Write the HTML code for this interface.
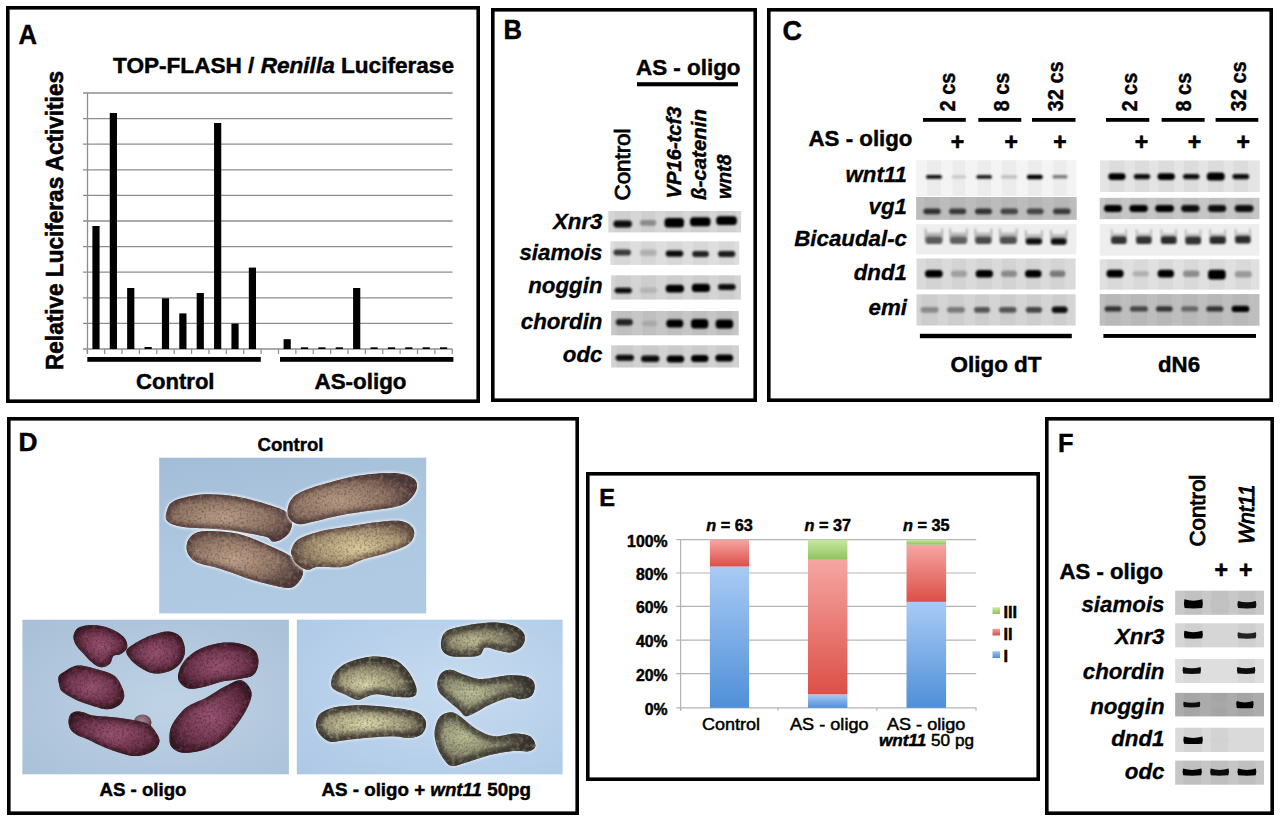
<!DOCTYPE html>
<html><head><meta charset="utf-8"><style>
html,body{margin:0;padding:0;background:#fff;width:1280px;height:822px;overflow:hidden}
svg{display:block}
text{font-family:"Liberation Sans", sans-serif}
</style></head><body>
<svg width="1280" height="822" viewBox="0 0 1280 822">
<defs>
<filter id="bl" x="-30%" y="-60%" width="160%" height="220%"><feGaussianBlur stdDeviation="1.0"/></filter>
<filter id="bl2" x="-30%" y="-60%" width="160%" height="220%"><feGaussianBlur stdDeviation="0.7"/></filter>
<linearGradient id="gb" x1="0" y1="0" x2="0" y2="1"><stop offset="0" stop-color="#a9cbf5"/><stop offset="1" stop-color="#4f8fd8"/></linearGradient>
<linearGradient id="gr" x1="0" y1="0" x2="0" y2="1"><stop offset="0" stop-color="#f6a6a3"/><stop offset="1" stop-color="#dc4f47"/></linearGradient>
<linearGradient id="gg" x1="0" y1="0" x2="0" y2="1"><stop offset="0" stop-color="#c9e8a3"/><stop offset="1" stop-color="#8fc35c"/></linearGradient>
<linearGradient id="gbs" x1="0" y1="0" x2="0" y2="1"><stop offset="0" stop-color="#9cc4f2"/><stop offset="1" stop-color="#4f8fd8"/></linearGradient>
<linearGradient id="grs" x1="0" y1="0" x2="0" y2="1"><stop offset="0" stop-color="#f2a09c"/><stop offset="1" stop-color="#dc4f47"/></linearGradient>
<linearGradient id="ggs" x1="0" y1="0" x2="0" y2="1"><stop offset="0" stop-color="#c9e8a3"/><stop offset="1" stop-color="#8fc35c"/></linearGradient>
<linearGradient id="ush0" x1="0" y1="0" x2="0" y2="1"><stop offset="0" stop-color="#e4e4e4"/><stop offset="0.5" stop-color="#777" stop-opacity="0.6"/><stop offset="1" stop-color="#777"/></linearGradient><linearGradient id="ush1" x1="0" y1="0" x2="0" y2="1"><stop offset="0" stop-color="#e4e4e4"/><stop offset="0.5" stop-color="#777" stop-opacity="0.6"/><stop offset="1" stop-color="#777"/></linearGradient><linearGradient id="ush2" x1="0" y1="0" x2="0" y2="1"><stop offset="0" stop-color="#e4e4e4"/><stop offset="0.5" stop-color="#666" stop-opacity="0.6"/><stop offset="1" stop-color="#666"/></linearGradient><linearGradient id="ush3" x1="0" y1="0" x2="0" y2="1"><stop offset="0" stop-color="#e4e4e4"/><stop offset="0.5" stop-color="#666" stop-opacity="0.6"/><stop offset="1" stop-color="#666"/></linearGradient><linearGradient id="ush4" x1="0" y1="0" x2="0" y2="1"><stop offset="0" stop-color="#e4e4e4"/><stop offset="0.5" stop-color="#111" stop-opacity="0.6"/><stop offset="1" stop-color="#111"/></linearGradient><linearGradient id="ush5" x1="0" y1="0" x2="0" y2="1"><stop offset="0" stop-color="#e4e4e4"/><stop offset="0.5" stop-color="#111" stop-opacity="0.6"/><stop offset="1" stop-color="#111"/></linearGradient>
</defs>
<rect x="7.80" y="7.80" width="470.40" height="393.40" fill="none" stroke="#000" stroke-width="3.6"/>
<rect x="492.80" y="9.80" width="262.40" height="390.40" fill="none" stroke="#000" stroke-width="3.6"/>
<rect x="768.80" y="9.80" width="502.40" height="390.40" fill="none" stroke="#000" stroke-width="3.6"/>
<rect x="8.80" y="418.80" width="568.40" height="394.40" fill="none" stroke="#000" stroke-width="3.6"/>
<rect x="587.80" y="473.80" width="450.40" height="305.40" fill="none" stroke="#000" stroke-width="3.6"/>
<rect x="1046.80" y="418.80" width="225.40" height="394.40" fill="none" stroke="#000" stroke-width="3.6"/>
<text x="18.50" y="44.00" font-size="27.5" font-weight="bold" font-style="normal" text-anchor="start" fill="#000" stroke="#000" stroke-width="0.45" textLength="18.50" lengthAdjust="spacingAndGlyphs">A</text>
<line x1="83" y1="93.00" x2="452.5" y2="93.00" stroke="#8e8e8e" stroke-width="1.3"/>
<line x1="83" y1="118.60" x2="452.5" y2="118.60" stroke="#8e8e8e" stroke-width="1.3"/>
<line x1="83" y1="144.20" x2="452.5" y2="144.20" stroke="#8e8e8e" stroke-width="1.3"/>
<line x1="83" y1="169.80" x2="452.5" y2="169.80" stroke="#8e8e8e" stroke-width="1.3"/>
<line x1="83" y1="195.40" x2="452.5" y2="195.40" stroke="#8e8e8e" stroke-width="1.3"/>
<line x1="83" y1="221.00" x2="452.5" y2="221.00" stroke="#8e8e8e" stroke-width="1.3"/>
<line x1="83" y1="246.60" x2="452.5" y2="246.60" stroke="#8e8e8e" stroke-width="1.3"/>
<line x1="83" y1="272.20" x2="452.5" y2="272.20" stroke="#8e8e8e" stroke-width="1.3"/>
<line x1="83" y1="297.80" x2="452.5" y2="297.80" stroke="#8e8e8e" stroke-width="1.3"/>
<line x1="83" y1="323.40" x2="452.5" y2="323.40" stroke="#8e8e8e" stroke-width="1.3"/>
<line x1="83" y1="349.00" x2="452.5" y2="349.00" stroke="#8e8e8e" stroke-width="1.3"/>
<line x1="87.5" y1="93" x2="87.5" y2="354" stroke="#8e8e8e" stroke-width="1.3"/>
<line x1="87.30" y1="349" x2="87.30" y2="354" stroke="#8e8e8e" stroke-width="1.2"/>
<line x1="104.68" y1="349" x2="104.68" y2="354" stroke="#8e8e8e" stroke-width="1.2"/>
<line x1="122.06" y1="349" x2="122.06" y2="354" stroke="#8e8e8e" stroke-width="1.2"/>
<line x1="139.44" y1="349" x2="139.44" y2="354" stroke="#8e8e8e" stroke-width="1.2"/>
<line x1="156.82" y1="349" x2="156.82" y2="354" stroke="#8e8e8e" stroke-width="1.2"/>
<line x1="174.20" y1="349" x2="174.20" y2="354" stroke="#8e8e8e" stroke-width="1.2"/>
<line x1="191.58" y1="349" x2="191.58" y2="354" stroke="#8e8e8e" stroke-width="1.2"/>
<line x1="208.96" y1="349" x2="208.96" y2="354" stroke="#8e8e8e" stroke-width="1.2"/>
<line x1="226.34" y1="349" x2="226.34" y2="354" stroke="#8e8e8e" stroke-width="1.2"/>
<line x1="243.72" y1="349" x2="243.72" y2="354" stroke="#8e8e8e" stroke-width="1.2"/>
<line x1="261.10" y1="349" x2="261.10" y2="354" stroke="#8e8e8e" stroke-width="1.2"/>
<line x1="278.48" y1="349" x2="278.48" y2="354" stroke="#8e8e8e" stroke-width="1.2"/>
<line x1="295.86" y1="349" x2="295.86" y2="354" stroke="#8e8e8e" stroke-width="1.2"/>
<line x1="313.24" y1="349" x2="313.24" y2="354" stroke="#8e8e8e" stroke-width="1.2"/>
<line x1="330.62" y1="349" x2="330.62" y2="354" stroke="#8e8e8e" stroke-width="1.2"/>
<line x1="348.00" y1="349" x2="348.00" y2="354" stroke="#8e8e8e" stroke-width="1.2"/>
<line x1="365.38" y1="349" x2="365.38" y2="354" stroke="#8e8e8e" stroke-width="1.2"/>
<line x1="382.76" y1="349" x2="382.76" y2="354" stroke="#8e8e8e" stroke-width="1.2"/>
<line x1="400.14" y1="349" x2="400.14" y2="354" stroke="#8e8e8e" stroke-width="1.2"/>
<line x1="417.52" y1="349" x2="417.52" y2="354" stroke="#8e8e8e" stroke-width="1.2"/>
<line x1="434.90" y1="349" x2="434.90" y2="354" stroke="#8e8e8e" stroke-width="1.2"/>
<line x1="452.28" y1="349" x2="452.28" y2="354" stroke="#8e8e8e" stroke-width="1.2"/>
<rect x="92.39" y="226.00" width="7.20" height="123.00" fill="#000" />
<rect x="109.77" y="113.00" width="7.20" height="236.00" fill="#000" />
<rect x="127.15" y="288.00" width="7.20" height="61.00" fill="#000" />
<rect x="144.53" y="347.00" width="7.20" height="2.00" fill="#000" />
<rect x="161.91" y="298.30" width="7.20" height="50.70" fill="#000" />
<rect x="179.29" y="313.40" width="7.20" height="35.60" fill="#000" />
<rect x="196.67" y="293.00" width="7.20" height="56.00" fill="#000" />
<rect x="214.05" y="123.00" width="7.20" height="226.00" fill="#000" />
<rect x="231.43" y="323.60" width="7.20" height="25.40" fill="#000" />
<rect x="248.81" y="267.60" width="7.20" height="81.40" fill="#000" />
<rect x="283.57" y="339.20" width="7.20" height="9.80" fill="#000" />
<rect x="300.95" y="347.30" width="7.20" height="1.70" fill="#000" />
<rect x="318.33" y="347.30" width="7.20" height="1.70" fill="#000" />
<rect x="335.71" y="347.30" width="7.20" height="1.70" fill="#000" />
<rect x="353.09" y="288.00" width="7.20" height="61.00" fill="#000" />
<rect x="370.47" y="347.30" width="7.20" height="1.70" fill="#000" />
<rect x="387.85" y="347.30" width="7.20" height="1.70" fill="#000" />
<rect x="405.23" y="347.30" width="7.20" height="1.70" fill="#000" />
<rect x="422.61" y="347.30" width="7.20" height="1.70" fill="#000" />
<rect x="439.99" y="347.30" width="7.20" height="1.70" fill="#000" />
<rect x="87.30" y="357.00" width="173.50" height="4.80" fill="#000" />
<rect x="280.00" y="357.00" width="173.40" height="4.80" fill="#000" />
<text x="113.00" y="73.00" font-size="22.5" font-weight="bold" font-style="normal" text-anchor="start" fill="#000" stroke="#000" stroke-width="0.45" textLength="341.00" lengthAdjust="spacingAndGlyphs">TOP-FLASH / <tspan font-style="italic">Renilla</tspan> Luciferase</text>
<text transform="translate(63.00,370.00) rotate(-90)" x="0" y="0" font-size="23.2" font-weight="bold" font-style="normal" text-anchor="start" fill="#000" stroke="#000" stroke-width="0.6" textLength="299.00" lengthAdjust="spacingAndGlyphs">Relative Luciferas Activities</text>
<text x="136.00" y="388.60" font-size="22" font-weight="bold" font-style="normal" text-anchor="start" fill="#000" stroke="#000" stroke-width="0.45" textLength="78.50" lengthAdjust="spacingAndGlyphs">Control</text>
<text x="314.50" y="388.60" font-size="22" font-weight="bold" font-style="normal" text-anchor="start" fill="#000" stroke="#000" stroke-width="0.45" textLength="92.00" lengthAdjust="spacingAndGlyphs">AS-oligo</text>
<text x="503.50" y="39.00" font-size="27.5" font-weight="bold" font-style="normal" text-anchor="start" fill="#000" stroke="#000" stroke-width="0.45" textLength="18.50" lengthAdjust="spacingAndGlyphs">B</text>
<text x="636.00" y="75.40" font-size="22.5" font-weight="bold" font-style="normal" text-anchor="start" fill="#000" stroke="#000" stroke-width="0.45" textLength="104.50" lengthAdjust="spacingAndGlyphs">AS - oligo</text>
<rect x="637.00" y="82.20" width="101.00" height="4.10" fill="#000" />
<text transform="translate(629.80,200.50) rotate(-90)" x="0" y="0" font-size="22" font-weight="normal" font-style="normal" text-anchor="start" fill="#000" stroke="#000" stroke-width="0.8" textLength="72.00" lengthAdjust="spacingAndGlyphs">Control</text>
<text transform="translate(681.30,198.50) rotate(-90)" x="0" y="0" font-size="21" font-weight="bold" font-style="italic" text-anchor="start" fill="#000" stroke="#000" stroke-width="0.45" textLength="92.00" lengthAdjust="spacingAndGlyphs">VP16-tcf3</text>
<text transform="translate(706.00,200.00) rotate(-90)" x="0" y="0" font-size="21" font-weight="bold" font-style="italic" text-anchor="start" fill="#000" stroke="#000" stroke-width="0.45" textLength="91.00" lengthAdjust="spacingAndGlyphs">ß-catenin</text>
<text transform="translate(731.40,199.00) rotate(-90)" x="0" y="0" font-size="21" font-weight="bold" font-style="italic" text-anchor="start" fill="#000" stroke="#000" stroke-width="0.45" textLength="44.50" lengthAdjust="spacingAndGlyphs">wnt8</text>
<text x="602.50" y="228.80" font-size="22.3" font-weight="bold" font-style="italic" text-anchor="end" fill="#000" stroke="#000" stroke-width="0.3">Xnr3</text>
<text x="602.50" y="259.50" font-size="22.3" font-weight="bold" font-style="italic" text-anchor="end" fill="#000" stroke="#000" stroke-width="0.3">siamois</text>
<text x="602.50" y="293.40" font-size="22.3" font-weight="bold" font-style="italic" text-anchor="end" fill="#000" stroke="#000" stroke-width="0.3">noggin</text>
<text x="602.50" y="329.20" font-size="22.3" font-weight="bold" font-style="italic" text-anchor="end" fill="#000" stroke="#000" stroke-width="0.3">chordin</text>
<text x="602.50" y="362.40" font-size="22.3" font-weight="bold" font-style="italic" text-anchor="end" fill="#000" stroke="#000" stroke-width="0.3">odc</text>
<rect x="608.30" y="211.00" width="132.80" height="21.40" fill="#d6d6d6" />
<rect x="614.40" y="211.00" width="16.50" height="21.40" fill="#000" fill-opacity="0.03"/>
<rect x="641.00" y="211.00" width="14.20" height="21.40" fill="#000" fill-opacity="0.03"/>
<rect x="665.50" y="211.00" width="17.50" height="21.40" fill="#000" fill-opacity="0.03"/>
<rect x="691.00" y="211.00" width="18.50" height="21.40" fill="#000" fill-opacity="0.03"/>
<rect x="717.20" y="211.00" width="18.70" height="21.40" fill="#000" fill-opacity="0.03"/>
<rect x="613.40" y="220.60" width="18.50" height="6.90" rx="3.45" fill="#0a0a0a" filter="url(#bl)"/>
<rect x="640.00" y="220.00" width="16.20" height="5.70" rx="2.85" fill="#8a8a8a" filter="url(#bl)"/>
<rect x="664.50" y="218.00" width="19.50" height="9.50" rx="3.50" fill="#050505" filter="url(#bl)"/>
<rect x="690.00" y="217.20" width="20.50" height="9.10" rx="3.50" fill="#050505" filter="url(#bl)"/>
<rect x="716.20" y="216.20" width="20.70" height="8.80" rx="3.50" fill="#050505" filter="url(#bl)"/>
<rect x="610.30" y="241.30" width="129.00" height="23.60" fill="#dedede" />
<rect x="614.40" y="241.30" width="15.60" height="23.60" fill="#000" fill-opacity="0.03"/>
<rect x="641.00" y="241.30" width="14.70" height="23.60" fill="#000" fill-opacity="0.03"/>
<rect x="666.70" y="241.30" width="15.60" height="23.60" fill="#000" fill-opacity="0.03"/>
<rect x="693.20" y="241.30" width="14.70" height="23.60" fill="#000" fill-opacity="0.03"/>
<rect x="719.00" y="241.30" width="15.30" height="23.60" fill="#000" fill-opacity="0.03"/>
<rect x="613.40" y="249.40" width="17.60" height="6.10" rx="3.05" fill="#3a3a3a" filter="url(#bl)"/>
<rect x="640.00" y="249.50" width="16.70" height="6.50" rx="3.25" fill="#b0b0b0" filter="url(#bl)"/>
<rect x="665.70" y="250.60" width="17.60" height="6.10" rx="3.05" fill="#111" filter="url(#bl)"/>
<rect x="692.20" y="251.00" width="16.70" height="6.00" rx="3.00" fill="#222" filter="url(#bl)"/>
<rect x="718.00" y="251.00" width="17.30" height="6.00" rx="3.00" fill="#1a1a1a" filter="url(#bl)"/>
<rect x="611.20" y="275.30" width="129.70" height="24.30" fill="#d4d4d4" />
<rect x="615.60" y="275.30" width="15.30" height="24.30" fill="#000" fill-opacity="0.03"/>
<rect x="641.00" y="275.30" width="15.00" height="24.30" fill="#000" fill-opacity="0.03"/>
<rect x="666.70" y="275.30" width="16.30" height="24.30" fill="#000" fill-opacity="0.03"/>
<rect x="692.80" y="275.30" width="16.20" height="24.30" fill="#000" fill-opacity="0.03"/>
<rect x="719.00" y="275.30" width="15.60" height="24.30" fill="#000" fill-opacity="0.03"/>
<rect x="614.60" y="287.70" width="17.30" height="5.50" rx="2.75" fill="#111" filter="url(#bl)"/>
<rect x="640.00" y="287.50" width="17.00" height="5.50" rx="2.75" fill="#b4b4b4" filter="url(#bl)"/>
<rect x="665.70" y="284.70" width="18.30" height="7.90" rx="3.50" fill="#050505" filter="url(#bl)"/>
<rect x="691.80" y="283.80" width="18.20" height="8.20" rx="3.50" fill="#050505" filter="url(#bl)"/>
<rect x="718.00" y="284.00" width="17.60" height="6.00" rx="3.00" fill="#0a0a0a" filter="url(#bl)"/>
<rect x="611.20" y="311.00" width="127.50" height="24.30" fill="#c6c6c6" />
<rect x="616.80" y="311.00" width="15.00" height="24.30" fill="#000" fill-opacity="0.03"/>
<rect x="643.00" y="311.00" width="13.20" height="24.30" fill="#000" fill-opacity="0.03"/>
<rect x="667.30" y="311.00" width="15.00" height="24.30" fill="#000" fill-opacity="0.03"/>
<rect x="692.00" y="311.00" width="15.30" height="24.30" fill="#000" fill-opacity="0.03"/>
<rect x="716.60" y="311.00" width="15.60" height="24.30" fill="#000" fill-opacity="0.03"/>
<rect x="615.80" y="318.90" width="17.00" height="6.60" rx="3.30" fill="#222" filter="url(#bl)"/>
<rect x="642.00" y="320.70" width="15.20" height="5.50" rx="2.75" fill="#a8a8a8" filter="url(#bl)"/>
<rect x="666.30" y="319.50" width="17.00" height="7.90" rx="3.50" fill="#050505" filter="url(#bl)"/>
<rect x="691.00" y="318.90" width="17.30" height="9.70" rx="3.50" fill="#050505" filter="url(#bl)"/>
<rect x="715.60" y="319.50" width="17.60" height="9.10" rx="3.50" fill="#050505" filter="url(#bl)"/>
<rect x="611.20" y="345.30" width="127.80" height="22.20" fill="#d2d2d2" />
<rect x="616.60" y="345.30" width="16.40" height="22.20" fill="#000" fill-opacity="0.03"/>
<rect x="642.00" y="345.30" width="16.40" height="22.20" fill="#000" fill-opacity="0.03"/>
<rect x="667.70" y="345.30" width="15.50" height="22.20" fill="#000" fill-opacity="0.03"/>
<rect x="692.00" y="345.30" width="15.50" height="22.20" fill="#000" fill-opacity="0.03"/>
<rect x="716.30" y="345.30" width="15.90" height="22.20" fill="#000" fill-opacity="0.03"/>
<rect x="615.60" y="354.70" width="18.40" height="6.10" rx="3.05" fill="#080808" filter="url(#bl)"/>
<rect x="641.00" y="355.50" width="18.40" height="6.50" rx="3.25" fill="#080808" filter="url(#bl)"/>
<rect x="666.70" y="355.50" width="17.50" height="7.00" rx="3.50" fill="#050505" filter="url(#bl)"/>
<rect x="691.00" y="355.00" width="17.50" height="7.00" rx="3.50" fill="#050505" filter="url(#bl)"/>
<rect x="715.30" y="354.50" width="17.90" height="7.00" rx="3.50" fill="#050505" filter="url(#bl)"/>
<text x="782.50" y="39.50" font-size="27.5" font-weight="bold" font-style="normal" text-anchor="start" fill="#000" stroke="#000" stroke-width="0.45" textLength="19.50" lengthAdjust="spacingAndGlyphs">C</text>
<text x="808.50" y="146.20" font-size="22.5" font-weight="bold" font-style="normal" text-anchor="start" fill="#000" stroke="#000" stroke-width="0.45" textLength="104.00" lengthAdjust="spacingAndGlyphs">AS - oligo</text>
<text x="957.50" y="149.50" font-size="23" font-weight="bold" font-style="normal" text-anchor="middle" fill="#000" stroke="#000" stroke-width="0.6">+</text>
<text x="1011.30" y="149.50" font-size="23" font-weight="bold" font-style="normal" text-anchor="middle" fill="#000" stroke="#000" stroke-width="0.6">+</text>
<text x="1060.00" y="149.50" font-size="23" font-weight="bold" font-style="normal" text-anchor="middle" fill="#000" stroke="#000" stroke-width="0.6">+</text>
<text x="1141.50" y="149.50" font-size="23" font-weight="bold" font-style="normal" text-anchor="middle" fill="#000" stroke="#000" stroke-width="0.6">+</text>
<text x="1194.40" y="149.50" font-size="23" font-weight="bold" font-style="normal" text-anchor="middle" fill="#000" stroke="#000" stroke-width="0.6">+</text>
<text x="1243.30" y="149.50" font-size="23" font-weight="bold" font-style="normal" text-anchor="middle" fill="#000" stroke="#000" stroke-width="0.6">+</text>
<rect x="923.00" y="118.00" width="42.80" height="3.80" fill="#000" />
<rect x="978.30" y="118.00" width="43.00" height="3.80" fill="#000" />
<rect x="1032.00" y="118.00" width="43.50" height="3.80" fill="#000" />
<rect x="1106.00" y="118.00" width="43.30" height="3.80" fill="#000" />
<rect x="1161.60" y="118.00" width="43.00" height="3.80" fill="#000" />
<rect x="1215.60" y="118.00" width="42.70" height="3.80" fill="#000" />
<text transform="translate(955.00,111.50) rotate(-90)" x="0" y="0" font-size="22" font-weight="bold" font-style="normal" text-anchor="start" fill="#000" stroke="#000" stroke-width="0.4" textLength="39.00" lengthAdjust="spacingAndGlyphs">2 cs</text>
<text transform="translate(1008.80,111.50) rotate(-90)" x="0" y="0" font-size="22" font-weight="bold" font-style="normal" text-anchor="start" fill="#000" stroke="#000" stroke-width="0.4" textLength="39.00" lengthAdjust="spacingAndGlyphs">8 cs</text>
<text transform="translate(1063.00,111.50) rotate(-90)" x="0" y="0" font-size="22" font-weight="bold" font-style="normal" text-anchor="start" fill="#000" stroke="#000" stroke-width="0.4" textLength="50.20" lengthAdjust="spacingAndGlyphs">32 cs</text>
<text transform="translate(1137.00,111.50) rotate(-90)" x="0" y="0" font-size="22" font-weight="bold" font-style="normal" text-anchor="start" fill="#000" stroke="#000" stroke-width="0.4" textLength="38.70" lengthAdjust="spacingAndGlyphs">2 cs</text>
<text transform="translate(1191.30,111.50) rotate(-90)" x="0" y="0" font-size="22" font-weight="bold" font-style="normal" text-anchor="start" fill="#000" stroke="#000" stroke-width="0.4" textLength="38.70" lengthAdjust="spacingAndGlyphs">8 cs</text>
<text transform="translate(1246.00,111.50) rotate(-90)" x="0" y="0" font-size="22" font-weight="bold" font-style="normal" text-anchor="start" fill="#000" stroke="#000" stroke-width="0.4" textLength="50.20" lengthAdjust="spacingAndGlyphs">32 cs</text>
<text x="907.00" y="182.40" font-size="22.3" font-weight="bold" font-style="italic" text-anchor="end" fill="#000" stroke="#000" stroke-width="0.3">wnt11</text>
<text x="907.00" y="213.50" font-size="22.3" font-weight="bold" font-style="italic" text-anchor="end" fill="#000" stroke="#000" stroke-width="0.3">vg1</text>
<text x="907.00" y="245.70" font-size="22.3" font-weight="bold" font-style="italic" text-anchor="end" fill="#000" stroke="#000" stroke-width="0.3">Bicaudal-c</text>
<text x="907.00" y="280.30" font-size="22.3" font-weight="bold" font-style="italic" text-anchor="end" fill="#000" stroke="#000" stroke-width="0.3">dnd1</text>
<text x="907.00" y="315.30" font-size="22.3" font-weight="bold" font-style="italic" text-anchor="end" fill="#000" stroke="#000" stroke-width="0.3">emi</text>
<rect x="916.10" y="160.20" width="160.30" height="35.80" fill="#f4f4f4" />
<rect x="927.00" y="160.20" width="14.00" height="35.80" fill="#000" fill-opacity="0.03"/>
<rect x="952.60" y="160.20" width="12.60" height="35.80" fill="#000" fill-opacity="0.03"/>
<rect x="977.40" y="160.20" width="13.60" height="35.80" fill="#000" fill-opacity="0.03"/>
<rect x="1002.00" y="160.20" width="14.30" height="35.80" fill="#000" fill-opacity="0.03"/>
<rect x="1027.80" y="160.20" width="14.00" height="35.80" fill="#000" fill-opacity="0.03"/>
<rect x="1053.30" y="160.20" width="13.40" height="35.80" fill="#000" fill-opacity="0.03"/>
<rect x="926.00" y="175.10" width="16.00" height="3.70" rx="1.85" fill="#111" filter="url(#bl)"/>
<rect x="951.60" y="175.30" width="14.60" height="3.30" rx="1.65" fill="#c8c8c8" filter="url(#bl)"/>
<rect x="976.40" y="175.10" width="15.60" height="3.70" rx="1.85" fill="#1a1a1a" filter="url(#bl)"/>
<rect x="1001.00" y="175.30" width="16.30" height="3.30" rx="1.65" fill="#bcbcbc" filter="url(#bl)"/>
<rect x="1026.80" y="174.80" width="16.00" height="4.40" rx="2.20" fill="#050505" filter="url(#bl)"/>
<rect x="1052.30" y="175.00" width="15.40" height="3.60" rx="1.80" fill="#7a7a7a" filter="url(#bl)"/>
<rect x="916.10" y="197.00" width="160.60" height="22.80" fill="#bcbcbc" />
<rect x="924.40" y="197.00" width="15.30" height="22.80" fill="#000" fill-opacity="0.03"/>
<rect x="950.00" y="197.00" width="15.20" height="22.80" fill="#000" fill-opacity="0.03"/>
<rect x="976.00" y="197.00" width="15.00" height="22.80" fill="#000" fill-opacity="0.03"/>
<rect x="1001.50" y="197.00" width="15.50" height="22.80" fill="#000" fill-opacity="0.03"/>
<rect x="1027.80" y="197.00" width="14.80" height="22.80" fill="#000" fill-opacity="0.03"/>
<rect x="1054.00" y="197.00" width="15.60" height="22.80" fill="#000" fill-opacity="0.03"/>
<rect x="923.40" y="208.40" width="17.30" height="5.80" rx="2.90" fill="#333" filter="url(#bl)"/>
<rect x="949.00" y="208.40" width="17.20" height="5.80" rx="2.90" fill="#3a3a3a" filter="url(#bl)"/>
<rect x="975.00" y="208.40" width="17.00" height="5.80" rx="2.90" fill="#333" filter="url(#bl)"/>
<rect x="1000.50" y="208.40" width="17.50" height="5.80" rx="2.90" fill="#444" filter="url(#bl)"/>
<rect x="1026.80" y="208.40" width="16.80" height="5.80" rx="2.90" fill="#444" filter="url(#bl)"/>
<rect x="1053.00" y="208.40" width="17.60" height="5.80" rx="2.90" fill="#3a3a3a" filter="url(#bl)"/>
<rect x="916.10" y="224.20" width="160.30" height="30.20" fill="#eeeeee" />
<path d="M925.4,228.6 L926.4,241.9 M942.4,228.6 L941.4,241.9" stroke="#a8a8a8" stroke-width="1.7" fill="none" filter="url(#bl)"/>
<rect x="925.6" y="232.6" width="16.6" height="5" fill="#b8b8b8" filter="url(#bl)"/>
<rect x="925.6" y="236.6" width="16.6" height="7.3" rx="2.5" fill="#5a5a5a" filter="url(#bl)"/>
<path d="M950.0,228.6 L951.0,241.9 M967.0,228.6 L966.0,241.9" stroke="#a8a8a8" stroke-width="1.7" fill="none" filter="url(#bl)"/>
<rect x="950.2" y="232.6" width="16.6" height="5" fill="#b8b8b8" filter="url(#bl)"/>
<rect x="950.2" y="236.6" width="16.6" height="7.3" rx="2.5" fill="#5e5e5e" filter="url(#bl)"/>
<path d="M975.2,228.6 L976.2,241.9 M991.5,228.6 L990.5,241.9" stroke="#a8a8a8" stroke-width="1.7" fill="none" filter="url(#bl)"/>
<rect x="975.4" y="232.6" width="15.9" height="5" fill="#b8b8b8" filter="url(#bl)"/>
<rect x="975.4" y="236.6" width="15.9" height="7.3" rx="2.5" fill="#4a4a4a" filter="url(#bl)"/>
<path d="M999.8,228.6 L1000.8,241.9 M1016.8,228.6 L1015.8,241.9" stroke="#a8a8a8" stroke-width="1.7" fill="none" filter="url(#bl)"/>
<rect x="1000.0" y="232.6" width="16.6" height="5" fill="#b8b8b8" filter="url(#bl)"/>
<rect x="1000.0" y="236.6" width="16.6" height="7.3" rx="2.5" fill="#505050" filter="url(#bl)"/>
<path d="M1025.7,230.2 L1026.7,242.6 M1042.0,230.2 L1041.0,242.6" stroke="#a8a8a8" stroke-width="1.7" fill="none" filter="url(#bl)"/>
<rect x="1025.9" y="234.2" width="15.9" height="5" fill="#b8b8b8" filter="url(#bl)"/>
<rect x="1025.9" y="238.2" width="15.9" height="6.4" rx="2.5" fill="#080808" filter="url(#bl)"/>
<path d="M1050.8,230.2 L1051.8,242.8 M1066.6,230.2 L1065.6,242.8" stroke="#a8a8a8" stroke-width="1.7" fill="none" filter="url(#bl)"/>
<rect x="1051.0" y="234.2" width="15.4" height="5" fill="#b8b8b8" filter="url(#bl)"/>
<rect x="1051.0" y="238.2" width="15.4" height="6.6" rx="2.5" fill="#080808" filter="url(#bl)"/>
<rect x="916.50" y="258.50" width="159.10" height="31.00" fill="#dadada" />
<rect x="926.00" y="258.50" width="15.70" height="31.00" fill="#000" fill-opacity="0.03"/>
<rect x="951.90" y="258.50" width="14.10" height="31.00" fill="#000" fill-opacity="0.03"/>
<rect x="976.60" y="258.50" width="15.40" height="31.00" fill="#000" fill-opacity="0.03"/>
<rect x="1002.00" y="258.50" width="14.00" height="31.00" fill="#000" fill-opacity="0.03"/>
<rect x="1026.00" y="258.50" width="14.50" height="31.00" fill="#000" fill-opacity="0.03"/>
<rect x="1050.70" y="258.50" width="13.70" height="31.00" fill="#000" fill-opacity="0.03"/>
<rect x="925.00" y="270.00" width="17.70" height="7.60" rx="3.50" fill="#050505" filter="url(#bl)"/>
<rect x="950.90" y="270.50" width="16.10" height="6.50" rx="3.25" fill="#a0a0a0" filter="url(#bl)"/>
<rect x="975.60" y="270.00" width="17.40" height="7.60" rx="3.50" fill="#050505" filter="url(#bl)"/>
<rect x="1001.00" y="270.50" width="16.00" height="6.50" rx="3.25" fill="#8a8a8a" filter="url(#bl)"/>
<rect x="1025.00" y="270.00" width="16.50" height="7.60" rx="3.50" fill="#050505" filter="url(#bl)"/>
<rect x="1049.70" y="270.50" width="15.70" height="6.50" rx="3.25" fill="#7a7a7a" filter="url(#bl)"/>
<rect x="916.50" y="294.30" width="159.10" height="31.20" fill="#d4d4d4" />
<rect x="921.60" y="294.30" width="16.00" height="31.20" fill="#000" fill-opacity="0.03"/>
<rect x="948.00" y="294.30" width="15.90" height="31.20" fill="#000" fill-opacity="0.03"/>
<rect x="975.00" y="294.30" width="14.00" height="31.20" fill="#000" fill-opacity="0.03"/>
<rect x="1000.00" y="294.30" width="15.50" height="31.20" fill="#000" fill-opacity="0.03"/>
<rect x="1026.80" y="294.30" width="14.20" height="31.20" fill="#000" fill-opacity="0.03"/>
<rect x="1052.70" y="294.30" width="13.90" height="31.20" fill="#000" fill-opacity="0.03"/>
<rect x="920.60" y="307.00" width="18.00" height="5.70" rx="2.85" fill="#8a8a8a" filter="url(#bl)"/>
<rect x="947.00" y="307.00" width="17.90" height="5.70" rx="2.85" fill="#7a7a7a" filter="url(#bl)"/>
<rect x="974.00" y="307.00" width="16.00" height="5.70" rx="2.85" fill="#555" filter="url(#bl)"/>
<rect x="999.00" y="307.00" width="17.50" height="5.70" rx="2.85" fill="#555" filter="url(#bl)"/>
<rect x="1025.80" y="307.00" width="16.20" height="5.70" rx="2.85" fill="#444" filter="url(#bl)"/>
<rect x="1051.70" y="306.50" width="15.90" height="6.50" rx="3.25" fill="#0a0a0a" filter="url(#bl)"/>
<rect x="919.90" y="333.80" width="151.90" height="4.40" fill="#000" />
<text x="950.50" y="372.30" font-size="22" font-weight="bold" font-style="normal" text-anchor="start" fill="#000" stroke="#000" stroke-width="0.45" textLength="91.00" lengthAdjust="spacingAndGlyphs">Oligo dT</text>
<rect x="1100.00" y="160.40" width="159.80" height="31.60" fill="#e4e4e4" />
<rect x="1109.30" y="160.40" width="15.30" height="31.60" fill="#000" fill-opacity="0.03"/>
<rect x="1134.80" y="160.40" width="14.40" height="31.60" fill="#000" fill-opacity="0.03"/>
<rect x="1158.50" y="160.40" width="15.40" height="31.60" fill="#000" fill-opacity="0.03"/>
<rect x="1184.00" y="160.40" width="14.50" height="31.60" fill="#000" fill-opacity="0.03"/>
<rect x="1207.80" y="160.40" width="15.90" height="31.60" fill="#000" fill-opacity="0.03"/>
<rect x="1233.40" y="160.40" width="14.80" height="31.60" fill="#000" fill-opacity="0.03"/>
<rect x="1108.30" y="173.20" width="17.30" height="6.80" rx="3.40" fill="#050505" filter="url(#bl)"/>
<rect x="1133.80" y="174.00" width="16.40" height="5.20" rx="2.60" fill="#111" filter="url(#bl)"/>
<rect x="1157.50" y="173.20" width="17.40" height="6.80" rx="3.40" fill="#050505" filter="url(#bl)"/>
<rect x="1183.00" y="174.00" width="16.50" height="5.20" rx="2.60" fill="#111" filter="url(#bl)"/>
<rect x="1206.80" y="172.50" width="17.90" height="8.00" rx="3.50" fill="#050505" filter="url(#bl)"/>
<rect x="1232.40" y="174.00" width="16.80" height="5.20" rx="2.60" fill="#0a0a0a" filter="url(#bl)"/>
<rect x="1099.70" y="197.80" width="159.80" height="21.40" fill="#c6c6c6" />
<rect x="1105.00" y="197.80" width="16.00" height="21.40" fill="#000" fill-opacity="0.03"/>
<rect x="1130.40" y="197.80" width="16.50" height="21.40" fill="#000" fill-opacity="0.03"/>
<rect x="1156.20" y="197.80" width="16.80" height="21.40" fill="#000" fill-opacity="0.03"/>
<rect x="1182.20" y="197.80" width="16.30" height="21.40" fill="#000" fill-opacity="0.03"/>
<rect x="1209.00" y="197.80" width="16.20" height="21.40" fill="#000" fill-opacity="0.03"/>
<rect x="1235.70" y="197.80" width="16.80" height="21.40" fill="#000" fill-opacity="0.03"/>
<rect x="1104.00" y="205.00" width="18.00" height="6.90" rx="3.45" fill="#050505" filter="url(#bl)"/>
<rect x="1129.40" y="205.00" width="18.50" height="6.90" rx="3.45" fill="#050505" filter="url(#bl)"/>
<rect x="1155.20" y="205.00" width="18.80" height="6.90" rx="3.45" fill="#050505" filter="url(#bl)"/>
<rect x="1181.20" y="205.00" width="18.30" height="6.90" rx="3.45" fill="#0a0a0a" filter="url(#bl)"/>
<rect x="1208.00" y="205.00" width="18.20" height="6.90" rx="3.45" fill="#0a0a0a" filter="url(#bl)"/>
<rect x="1234.70" y="205.00" width="18.80" height="6.90" rx="3.45" fill="#0a0a0a" filter="url(#bl)"/>
<rect x="1099.70" y="224.00" width="159.80" height="31.70" fill="#eeeeee" />
<path d="M1111.5,229.2 L1112.5,242.0 M1126.2,229.2 L1125.2,242.0" stroke="#b0b0b0" stroke-width="1.6" fill="none" filter="url(#bl)"/>
<rect x="1111.7" y="233.2" width="14.3" height="4" fill="#c4c4c4" filter="url(#bl)"/>
<rect x="1111.2" y="236.2" width="15.3" height="7.8" rx="2.5" fill="#333" filter="url(#bl)"/>
<path d="M1136.5,229.2 L1137.5,242.0 M1151.2,229.2 L1150.2,242.0" stroke="#b0b0b0" stroke-width="1.6" fill="none" filter="url(#bl)"/>
<rect x="1136.7" y="233.2" width="14.3" height="4" fill="#c4c4c4" filter="url(#bl)"/>
<rect x="1136.2" y="236.2" width="15.3" height="7.8" rx="2.5" fill="#333" filter="url(#bl)"/>
<path d="M1161.3,229.2 L1162.3,242.0 M1176.2,229.2 L1175.2,242.0" stroke="#b0b0b0" stroke-width="1.6" fill="none" filter="url(#bl)"/>
<rect x="1161.5" y="233.2" width="14.5" height="4" fill="#c4c4c4" filter="url(#bl)"/>
<rect x="1161.0" y="236.2" width="15.5" height="7.8" rx="2.5" fill="#2a2a2a" filter="url(#bl)"/>
<path d="M1185.7,229.5 L1186.7,242.5 M1200.6,229.5 L1199.6,242.5" stroke="#b0b0b0" stroke-width="1.6" fill="none" filter="url(#bl)"/>
<rect x="1185.9" y="233.5" width="14.5" height="4" fill="#c4c4c4" filter="url(#bl)"/>
<rect x="1185.4" y="236.5" width="15.5" height="8.0" rx="2.5" fill="#333" filter="url(#bl)"/>
<path d="M1210.0,229.2 L1211.0,242.0 M1225.4,229.2 L1224.4,242.0" stroke="#b0b0b0" stroke-width="1.6" fill="none" filter="url(#bl)"/>
<rect x="1210.2" y="233.2" width="15.0" height="4" fill="#c4c4c4" filter="url(#bl)"/>
<rect x="1209.7" y="236.2" width="16.0" height="7.8" rx="2.5" fill="#2a2a2a" filter="url(#bl)"/>
<path d="M1235.5,228.8 L1236.5,241.5 M1250.2,228.8 L1249.2,241.5" stroke="#b0b0b0" stroke-width="1.6" fill="none" filter="url(#bl)"/>
<rect x="1235.7" y="232.8" width="14.3" height="4" fill="#c4c4c4" filter="url(#bl)"/>
<rect x="1235.2" y="235.8" width="15.3" height="7.7" rx="2.5" fill="#2a2a2a" filter="url(#bl)"/>
<rect x="1099.70" y="259.30" width="159.80" height="30.40" fill="#e0e0e0" />
<rect x="1107.50" y="259.30" width="15.10" height="30.40" fill="#000" fill-opacity="0.03"/>
<rect x="1133.60" y="259.30" width="14.30" height="30.40" fill="#000" fill-opacity="0.03"/>
<rect x="1158.60" y="259.30" width="14.40" height="30.40" fill="#000" fill-opacity="0.03"/>
<rect x="1184.00" y="259.30" width="14.50" height="30.40" fill="#000" fill-opacity="0.03"/>
<rect x="1209.00" y="259.30" width="15.70" height="30.40" fill="#000" fill-opacity="0.03"/>
<rect x="1235.70" y="259.30" width="15.10" height="30.40" fill="#000" fill-opacity="0.03"/>
<rect x="1106.50" y="269.80" width="17.10" height="7.80" rx="3.50" fill="#050505" filter="url(#bl)"/>
<rect x="1132.60" y="271.00" width="16.30" height="5.50" rx="2.75" fill="#b0b0b0" filter="url(#bl)"/>
<rect x="1157.60" y="269.80" width="16.40" height="7.80" rx="3.50" fill="#050505" filter="url(#bl)"/>
<rect x="1183.00" y="270.50" width="16.50" height="6.50" rx="3.25" fill="#8c8c8c" filter="url(#bl)"/>
<rect x="1208.00" y="269.80" width="17.70" height="9.70" rx="3.50" fill="#050505" filter="url(#bl)"/>
<rect x="1234.70" y="271.00" width="17.10" height="6.50" rx="3.25" fill="#9a9a9a" filter="url(#bl)"/>
<rect x="1099.70" y="294.10" width="159.80" height="31.60" fill="#bebebe" />
<rect x="1105.60" y="294.10" width="15.00" height="31.60" fill="#000" fill-opacity="0.03"/>
<rect x="1131.00" y="294.10" width="15.90" height="31.60" fill="#000" fill-opacity="0.03"/>
<rect x="1157.00" y="294.10" width="14.70" height="31.60" fill="#000" fill-opacity="0.03"/>
<rect x="1182.20" y="294.10" width="15.00" height="31.60" fill="#000" fill-opacity="0.03"/>
<rect x="1207.30" y="294.10" width="15.00" height="31.60" fill="#000" fill-opacity="0.03"/>
<rect x="1232.60" y="294.10" width="15.70" height="31.60" fill="#000" fill-opacity="0.03"/>
<rect x="1104.60" y="306.30" width="17.00" height="5.30" rx="2.65" fill="#333" filter="url(#bl)"/>
<rect x="1130.00" y="306.30" width="17.90" height="5.30" rx="2.65" fill="#444" filter="url(#bl)"/>
<rect x="1156.00" y="306.30" width="16.70" height="5.30" rx="2.65" fill="#333" filter="url(#bl)"/>
<rect x="1181.20" y="306.30" width="17.00" height="5.30" rx="2.65" fill="#666" filter="url(#bl)"/>
<rect x="1206.30" y="306.30" width="17.00" height="5.30" rx="2.65" fill="#333" filter="url(#bl)"/>
<rect x="1231.60" y="305.80" width="17.70" height="6.20" rx="3.10" fill="#050505" filter="url(#bl)"/>
<rect x="1103.40" y="334.00" width="152.60" height="3.90" fill="#000" />
<text x="1158.00" y="372.40" font-size="22" font-weight="bold" font-style="normal" text-anchor="start" fill="#000" stroke="#000" stroke-width="0.45" textLength="42.00" lengthAdjust="spacingAndGlyphs">dN6</text>
<text x="18.50" y="451.00" font-size="26.5" font-weight="bold" font-style="normal" text-anchor="start" fill="#000" stroke="#000" stroke-width="0.45" textLength="19.00" lengthAdjust="spacingAndGlyphs">D</text>
<text x="257.50" y="451.10" font-size="19" font-weight="bold" font-style="normal" text-anchor="start" fill="#000" stroke="#000" stroke-width="0.45" textLength="66.00" lengthAdjust="spacingAndGlyphs">Control</text>
<text x="99.50" y="796.20" font-size="19" font-weight="bold" font-style="normal" text-anchor="start" fill="#000" stroke="#000" stroke-width="0.45" textLength="87.00" lengthAdjust="spacingAndGlyphs">AS - oligo</text>
<text x="321.50" y="796.20" font-size="19" font-weight="bold" font-style="normal" text-anchor="start" fill="#000" stroke="#000" stroke-width="0.45" textLength="209.50" lengthAdjust="spacingAndGlyphs">AS - oligo + <tspan font-style="italic">wnt11</tspan> 50pg</text>
<defs><linearGradient id="bgc" x1="0" y1="0" x2="0.3" y2="1"><stop offset="0" stop-color="#a3bdd8"/><stop offset="0.6" stop-color="#aec8e1"/><stop offset="1" stop-color="#b1cae3"/></linearGradient>
<radialGradient id="bga" cx="0.55" cy="0.55" r="0.75"><stop offset="0" stop-color="#c0d3e6"/><stop offset="1" stop-color="#a8bfd7"/></radialGradient>
<radialGradient id="bgw" cx="0.6" cy="0.45" r="0.8"><stop offset="0" stop-color="#c6dbf0"/><stop offset="1" stop-color="#adc8e6"/></radialGradient>
<filter id="tex" x="0" y="0" width="1" height="1"><feTurbulence type="fractalNoise" baseFrequency="0.45" numOctaves="3" seed="7" result="n"/><feColorMatrix in="n" type="matrix" values="0 0 0 0 0  0 0 0 0 0  0 0 0 0 0  0 0 0 -3.2 1.75" result="a"/><feComposite in="SourceGraphic" in2="a" operator="in"/></filter>
<filter id="tex2" x="0" y="0" width="1" height="1"><feTurbulence type="fractalNoise" baseFrequency="0.25" numOctaves="2" seed="11" result="n"/><feColorMatrix in="n" type="matrix" values="0 0 0 0 0  0 0 0 0 0  0 0 0 0 0  0 0 0 3 -1.45" result="a"/><feComposite in="SourceGraphic" in2="a" operator="in"/></filter>
<filter id="soft" x="-10%" y="-10%" width="120%" height="120%"><feGaussianBlur stdDeviation="0.8"/></filter>
<filter id="rim" x="-10%" y="-10%" width="120%" height="120%"><feGaussianBlur stdDeviation="2.2"/></filter>
<radialGradient id="eg0" cx="0.45" cy="0.5" r="0.62"><stop offset="0" stop-color="#bca08a"/><stop offset="0.6" stop-color="#8e7464"/><stop offset="1" stop-color="#4e3a3a"/></radialGradient>
<clipPath id="ec0"><path d="M166.1,514.1 C166.7,511.3 167.8,506.2 170.6,503.5 C173.4,500.8 177.0,499.6 182.8,498.1 C188.6,496.6 196.7,494.6 205.6,494.3 C214.5,494.1 225.9,495.0 236.1,496.6 C246.2,498.2 258.4,501.8 266.5,504.2 C274.6,506.6 280.6,508.4 284.8,511.1 C289.0,513.8 290.7,516.9 291.6,520.2 C292.5,523.5 291.8,527.7 290.1,530.9 C288.5,534.1 284.6,537.4 281.7,539.2 C278.8,541.0 275.1,541.9 272.6,541.5 C270.1,541.1 271.3,538.4 266.5,536.9 C261.7,535.4 251.8,533.7 243.7,532.4 C235.6,531.1 226.7,530.1 217.8,529.3 C208.9,528.5 197.8,528.5 190.4,527.8 C183.1,527.0 177.6,526.1 173.7,524.8 C169.8,523.5 168.1,522.0 166.8,520.2 C165.5,518.4 165.5,516.9 166.1,514.1Z"/></clipPath>
<radialGradient id="eg1" cx="0.4" cy="0.55" r="0.62"><stop offset="0" stop-color="#b89c86"/><stop offset="0.6" stop-color="#8c7262"/><stop offset="1" stop-color="#4e3a3a"/></radialGradient>
<clipPath id="ec1"><path d="M287.6,510.6 C287.9,507.1 288.9,501.9 292.2,498.4 C295.5,494.8 299.3,492.5 307.4,489.3 C315.5,486.1 330.2,481.9 340.8,479.4 C351.4,476.9 361.6,475.1 371.2,474.1 C380.8,473.1 391.5,472.6 398.6,473.4 C405.7,474.2 410.8,476.3 413.8,478.7 C416.8,481.1 417.3,484.5 416.8,487.8 C416.3,491.1 413.7,495.4 410.7,498.4 C407.7,501.4 405.2,504.0 398.6,506.0 C392.0,508.0 380.8,509.1 371.2,510.6 C361.6,512.1 350.2,513.4 340.8,515.2 C331.4,517.0 321.8,519.7 315.0,521.2 C308.2,522.7 303.9,524.5 299.8,524.3 C295.7,524.0 292.6,522.0 290.6,519.7 C288.6,517.4 287.3,514.2 287.6,510.6Z"/></clipPath>
<radialGradient id="eg2" cx="0.4" cy="0.5" r="0.62"><stop offset="0" stop-color="#c0a28c"/><stop offset="0.6" stop-color="#8e7464"/><stop offset="1" stop-color="#4e3a3a"/></radialGradient>
<clipPath id="ec2"><path d="M186.6,546.1 C186.8,543.0 188.0,539.3 190.4,536.9 C192.8,534.5 196.0,532.5 201.1,531.6 C206.2,530.7 213.8,531.0 220.9,531.6 C228.0,532.2 236.1,533.2 243.7,535.4 C251.3,537.5 259.1,541.3 266.5,544.5 C273.9,547.7 282.2,551.4 287.8,554.4 C293.4,557.4 297.5,559.6 300.0,562.8 C302.5,566.0 303.5,570.0 303.0,573.5 C302.5,577.0 299.2,581.7 296.9,584.1 C294.6,586.5 293.1,587.6 289.3,587.9 C285.5,588.1 280.4,587.0 274.1,585.6 C267.8,584.2 260.2,582.3 251.3,579.5 C242.4,576.7 229.8,571.7 220.9,568.9 C212.0,566.1 203.3,565.1 198.0,562.8 C192.7,560.5 190.8,558.0 188.9,555.2 C187.0,552.4 186.3,549.2 186.6,546.1Z"/></clipPath>
<radialGradient id="eg3" cx="0.55" cy="0.55" r="0.62"><stop offset="0" stop-color="#dccc9e"/><stop offset="0.6" stop-color="#a49070"/><stop offset="1" stop-color="#523f3c"/></radialGradient>
<clipPath id="ec3"><path d="M291.4,550.1 C292.4,547.3 293.8,542.5 298.2,539.5 C302.6,536.5 309.6,534.0 318.0,531.9 C326.4,529.8 338.3,528.2 348.4,526.6 C358.5,525.0 369.9,522.9 378.8,522.0 C387.7,521.1 396.0,520.3 401.6,521.2 C407.2,522.1 410.2,524.8 412.2,527.3 C414.2,529.8 414.8,533.3 413.8,536.4 C412.8,539.5 410.8,542.8 406.2,545.6 C401.6,548.4 393.5,550.9 386.4,553.2 C379.3,555.5 370.7,556.9 363.6,559.2 C356.5,561.5 351.4,565.5 343.8,566.8 C336.2,568.1 324.1,566.3 318.0,566.8 C311.9,567.3 310.9,570.4 307.4,569.9 C303.8,569.4 299.2,566.1 296.7,563.8 C294.2,561.5 293.1,558.5 292.2,556.2 C291.3,553.9 290.4,552.9 291.4,550.1Z"/></clipPath>
<radialGradient id="bump" cx="0.45" cy="0.4" r="0.6"><stop offset="0" stop-color="#a08894"/><stop offset="0.7" stop-color="#7a5464"/><stop offset="1" stop-color="#4a2a38"/></radialGradient>
<radialGradient id="eg4" cx="0.5" cy="0.5" r="0.62"><stop offset="0" stop-color="#9a5474"/><stop offset="0.6" stop-color="#6c344c"/><stop offset="1" stop-color="#321622"/></radialGradient>
<clipPath id="ec4"><path d="M73.6,635.3 C74.2,632.6 75.6,629.2 78.8,627.5 C82.0,625.8 87.4,624.8 92.6,624.9 C97.8,625.0 104.7,626.4 109.9,628.4 C115.1,630.4 120.8,633.8 123.7,637.0 C126.6,640.2 127.8,644.5 127.2,647.4 C126.6,650.3 122.6,652.9 120.3,654.3 C118.0,655.7 115.1,654.4 113.4,656.0 C111.7,657.6 111.9,661.9 109.9,663.8 C107.9,665.7 104.2,667.4 101.3,667.2 C98.4,667.1 95.8,665.4 92.6,662.9 C89.4,660.4 85.2,655.7 82.3,652.5 C79.4,649.3 76.9,646.8 75.4,643.9 C74.0,641.0 73.0,638.0 73.6,635.3Z"/></clipPath>
<radialGradient id="eg5" cx="0.5" cy="0.5" r="0.62"><stop offset="0" stop-color="#9a5474"/><stop offset="0.6" stop-color="#6c344c"/><stop offset="1" stop-color="#321622"/></radialGradient>
<clipPath id="ec5"><path d="M126.3,650.8 C126.9,648.2 129.9,646.5 134.1,643.9 C138.3,641.3 145.7,637.4 151.4,635.3 C157.2,633.2 163.7,631.2 168.6,631.5 C173.5,631.8 178.0,633.8 180.7,637.0 C183.4,640.2 185.0,646.5 185.0,650.8 C185.0,655.1 183.4,659.4 180.7,662.9 C178.0,666.4 173.2,669.8 168.6,671.5 C164.0,673.2 157.7,673.9 153.1,673.3 C148.5,672.7 144.8,670.4 141.0,668.1 C137.2,665.8 133.0,662.4 130.6,659.5 C128.2,656.6 125.7,653.4 126.3,650.8Z"/></clipPath>
<radialGradient id="eg6" cx="0.5" cy="0.5" r="0.62"><stop offset="0" stop-color="#9a5474"/><stop offset="0.6" stop-color="#6c344c"/><stop offset="1" stop-color="#321622"/></radialGradient>
<clipPath id="ec6"><path d="M58.5,677.0 C59.2,675.0 60.1,674.1 63.4,672.2 C66.7,670.3 72.1,665.9 78.0,665.5 C83.9,665.1 92.6,668.0 98.7,669.7 C104.8,671.4 110.7,672.9 114.5,675.8 C118.3,678.6 120.2,683.3 121.8,686.8 C123.4,690.2 124.6,693.5 124.2,696.5 C123.8,699.5 122.2,702.9 119.4,705.0 C116.6,707.1 112.1,709.3 107.2,709.3 C102.3,709.3 95.7,706.7 90.2,705.0 C84.7,703.3 79.0,701.1 74.3,698.9 C69.6,696.7 64.7,694.0 62.2,691.6 C59.7,689.2 59.7,686.7 59.1,684.3 C58.5,681.9 57.8,679.0 58.5,677.0Z"/></clipPath>
<radialGradient id="eg7" cx="0.5" cy="0.5" r="0.62"><stop offset="0" stop-color="#9a5474"/><stop offset="0.6" stop-color="#6c344c"/><stop offset="1" stop-color="#321622"/></radialGradient>
<clipPath id="ec7"><path d="M178.1,675.0 C178.7,671.3 180.6,665.5 184.2,661.2 C187.8,656.9 193.7,652.1 199.7,649.1 C205.7,646.1 213.5,643.9 220.4,643.0 C227.3,642.1 235.4,642.6 241.2,643.9 C247.0,645.2 252.1,647.6 255.0,650.8 C257.9,654.0 258.7,658.9 258.4,662.9 C258.1,666.9 256.8,672.3 253.3,675.0 C249.9,677.7 243.2,678.1 237.7,679.3 C232.2,680.4 226.2,680.6 220.4,681.9 C214.7,683.2 208.4,686.0 203.2,687.1 C198.0,688.2 193.2,689.4 189.4,688.8 C185.7,688.2 182.6,685.9 180.7,683.6 C178.8,681.3 177.5,678.7 178.1,675.0Z"/></clipPath>
<radialGradient id="eg8" cx="0.5" cy="0.5" r="0.62"><stop offset="0" stop-color="#9a5474"/><stop offset="0.6" stop-color="#6c344c"/><stop offset="1" stop-color="#321622"/></radialGradient>
<clipPath id="ec8"><path d="M169.5,738.9 C169.5,735.2 169.4,730.3 172.1,725.1 C174.8,719.9 180.2,712.4 185.9,707.8 C191.7,703.2 200.3,700.8 206.6,697.4 C212.9,694.0 218.4,690.0 223.9,687.1 C229.4,684.2 235.4,680.5 239.4,680.2 C243.4,679.9 246.1,682.8 248.1,685.4 C250.1,688.0 252.1,691.1 251.5,695.7 C250.9,700.3 248.0,707.0 244.6,713.0 C241.2,719.0 235.4,726.8 230.8,732.0 C226.2,737.2 222.2,740.9 217.0,744.1 C211.8,747.3 205.5,749.6 199.7,751.0 C193.9,752.4 187.0,753.3 182.4,752.7 C177.8,752.1 174.2,749.8 172.1,747.5 C169.9,745.2 169.5,742.6 169.5,738.9Z"/></clipPath>
<radialGradient id="eg9" cx="0.5" cy="0.5" r="0.62"><stop offset="0" stop-color="#9a5474"/><stop offset="0.6" stop-color="#6c344c"/><stop offset="1" stop-color="#321622"/></radialGradient>
<clipPath id="ec9"><path d="M68.5,722.0 C68.4,719.4 69.2,716.2 70.5,714.5 C71.8,712.8 74.2,711.8 76.5,711.5 C78.8,711.2 81.2,711.8 84.0,712.5 C86.8,713.2 88.1,714.7 93.0,715.5 C97.9,716.3 106.6,716.5 113.3,717.2 C120.0,718.0 127.2,718.9 133.0,720.0 C138.8,721.1 144.3,722.2 148.0,724.0 C151.7,725.8 153.1,728.3 155.0,731.0 C156.9,733.7 159.3,737.3 159.5,740.3 C159.7,743.3 157.9,746.6 155.9,748.8 C153.9,751.0 150.9,752.5 147.4,753.7 C143.9,754.9 139.3,756.1 135.2,756.1 C131.1,756.1 128.1,755.1 123.0,753.7 C117.9,752.3 110.6,750.0 104.8,747.6 C99.0,745.2 92.5,741.5 88.0,739.5 C83.5,737.5 80.8,737.1 78.0,735.5 C75.2,733.9 72.6,732.2 71.0,730.0 C69.4,727.8 68.6,724.6 68.5,722.0Z"/></clipPath>
<radialGradient id="eg10" cx="0.4" cy="0.55" r="0.62"><stop offset="0" stop-color="#c2c096"/><stop offset="0.6" stop-color="#86806a"/><stop offset="1" stop-color="#38322e"/></radialGradient>
<clipPath id="ec10"><path d="M441.1,642.0 C441.7,638.6 442.3,633.8 446.6,631.0 C450.9,628.2 459.0,626.8 467.0,625.4 C475.0,624.0 486.7,622.5 494.7,622.6 C502.7,622.8 510.1,624.3 515.0,626.3 C519.9,628.3 523.1,631.4 524.3,634.6 C525.5,637.8 524.6,642.8 522.4,645.7 C520.2,648.6 515.3,651.4 511.3,652.2 C507.3,653.0 502.7,651.2 498.4,650.4 C494.1,649.6 488.6,646.8 485.5,647.6 C482.4,648.4 483.0,653.5 479.9,655.0 C476.8,656.5 471.9,656.6 467.0,656.8 C462.1,656.9 454.3,656.8 450.3,655.9 C446.3,655.0 444.4,653.6 442.9,651.3 C441.4,649.0 440.5,645.4 441.1,642.0Z"/></clipPath>
<radialGradient id="eg11" cx="0.4" cy="0.65" r="0.62"><stop offset="0" stop-color="#dad6ac"/><stop offset="0.6" stop-color="#948e72"/><stop offset="1" stop-color="#38322e"/></radialGradient>
<clipPath id="ec11"><path d="M331.1,683.3 C331.2,680.4 332.2,675.6 335.0,672.2 C337.8,668.8 341.6,665.3 347.7,662.7 C353.8,660.1 363.8,657.2 371.4,656.7 C379.0,656.2 387.8,657.5 393.6,659.5 C399.4,661.5 402.8,665.3 406.2,669.0 C409.6,672.7 412.4,678.0 414.1,681.7 C415.8,685.4 416.8,688.7 416.5,691.2 C416.2,693.7 416.3,695.8 412.5,696.7 C408.7,697.6 399.7,697.1 393.6,696.7 C387.6,696.3 380.9,694.2 376.2,694.3 C371.4,694.4 368.3,696.6 365.1,697.5 C361.9,698.4 360.6,700.4 357.2,699.9 C353.8,699.4 348.3,696.0 344.5,694.3 C340.7,692.6 336.5,691.4 334.3,689.6 C332.1,687.8 331.0,686.2 331.1,683.3Z"/></clipPath>
<radialGradient id="eg12" cx="0.45" cy="0.5" r="0.62"><stop offset="0" stop-color="#dedab0"/><stop offset="0.6" stop-color="#9c9678"/><stop offset="1" stop-color="#38322e"/></radialGradient>
<clipPath id="ec12"><path d="M316.1,722.8 C316.8,720.2 317.4,715.9 320.8,713.3 C324.2,710.7 328.7,708.3 336.6,707.0 C344.5,705.7 357.8,705.1 368.3,705.4 C378.9,705.7 391.5,707.3 399.9,708.6 C408.3,709.9 414.5,710.9 418.9,713.3 C423.2,715.7 425.5,719.4 426.0,722.8 C426.5,726.2 424.8,731.4 422.0,733.9 C419.2,736.4 414.4,737.4 409.4,737.8 C404.4,738.2 398.9,736.2 392.0,736.2 C385.1,736.2 376.2,737.1 368.3,737.8 C360.4,738.5 350.8,739.5 344.5,740.2 C338.2,740.9 334.2,742.6 330.3,741.8 C326.4,741.0 323.0,737.6 320.8,735.5 C318.6,733.4 317.7,731.2 316.9,729.1 C316.1,727.0 315.5,725.4 316.1,722.8Z"/></clipPath>
<radialGradient id="eg13" cx="0.35" cy="0.5" r="0.62"><stop offset="0" stop-color="#bec29a"/><stop offset="0.6" stop-color="#86846c"/><stop offset="1" stop-color="#38322e"/></radialGradient>
<clipPath id="ec13"><path d="M437.4,682.7 C437.7,679.6 439.0,675.6 441.1,673.5 C443.2,671.4 446.6,669.6 450.3,669.8 C454.0,669.9 458.1,672.9 463.3,674.4 C468.6,675.9 474.1,678.9 481.8,679.0 C489.5,679.1 501.8,675.6 509.5,675.3 C517.2,675.0 523.8,675.7 528.0,677.2 C532.2,678.8 533.9,681.5 534.5,684.6 C535.1,687.7 534.0,693.2 531.7,695.6 C529.4,698.0 524.3,699.0 520.6,699.3 C516.9,699.6 514.7,696.6 509.5,697.5 C504.3,698.4 495.4,702.1 489.2,704.9 C483.0,707.7 476.5,712.2 472.5,714.1 C468.5,716.0 467.2,716.6 465.1,716.0 C463.0,715.4 462.7,713.2 459.6,710.4 C456.5,707.6 450.0,702.4 446.6,699.3 C443.2,696.2 440.7,694.8 439.2,692.0 C437.7,689.2 437.1,685.8 437.4,682.7Z"/></clipPath>
<radialGradient id="eg14" cx="0.3" cy="0.45" r="0.62"><stop offset="0" stop-color="#bac096"/><stop offset="0.6" stop-color="#84826a"/><stop offset="1" stop-color="#38322e"/></radialGradient>
<clipPath id="ec14"><path d="M434.6,732.6 C434.9,727.7 436.6,721.2 439.2,717.8 C441.8,714.4 446.9,712.6 450.3,712.3 C453.7,712.0 455.3,713.2 459.6,716.0 C463.9,718.8 470.4,725.5 476.2,728.9 C482.0,732.3 488.2,735.5 494.7,736.3 C501.2,737.1 509.1,733.5 515.0,733.5 C520.9,733.5 526.4,734.3 529.8,736.3 C533.2,738.3 535.4,743.1 535.4,745.6 C535.4,748.1 533.5,750.2 529.8,751.1 C526.1,752.0 519.7,750.5 513.2,751.1 C506.7,751.7 498.7,752.9 491.0,754.8 C483.3,756.6 473.5,760.4 467.0,762.2 C460.5,764.1 455.9,766.2 452.2,765.9 C448.5,765.6 447.3,763.5 444.8,760.4 C442.3,757.3 439.1,752.0 437.4,747.4 C435.7,742.8 434.3,737.5 434.6,732.6Z"/></clipPath></defs>
<rect x="159.2" y="457.7" width="267" height="155.7" fill="url(#bgc)"/>
<rect x="22.4" y="619.7" width="266.5" height="154.6" fill="url(#bga)"/>
<rect x="296.8" y="619.7" width="265.8" height="154.6" fill="url(#bgw)"/>
<path d="M166.1,514.1 C166.7,511.3 167.8,506.2 170.6,503.5 C173.4,500.8 177.0,499.6 182.8,498.1 C188.6,496.6 196.7,494.6 205.6,494.3 C214.5,494.1 225.9,495.0 236.1,496.6 C246.2,498.2 258.4,501.8 266.5,504.2 C274.6,506.6 280.6,508.4 284.8,511.1 C289.0,513.8 290.7,516.9 291.6,520.2 C292.5,523.5 291.8,527.7 290.1,530.9 C288.5,534.1 284.6,537.4 281.7,539.2 C278.8,541.0 275.1,541.9 272.6,541.5 C270.1,541.1 271.3,538.4 266.5,536.9 C261.7,535.4 251.8,533.7 243.7,532.4 C235.6,531.1 226.7,530.1 217.8,529.3 C208.9,528.5 197.8,528.5 190.4,527.8 C183.1,527.0 177.6,526.1 173.7,524.8 C169.8,523.5 168.1,522.0 166.8,520.2 C165.5,518.4 165.5,516.9 166.1,514.1Z" fill="none" stroke="#eef2f6" stroke-width="3" stroke-opacity="0.85" filter="url(#soft)"/><path d="M166.1,514.1 C166.7,511.3 167.8,506.2 170.6,503.5 C173.4,500.8 177.0,499.6 182.8,498.1 C188.6,496.6 196.7,494.6 205.6,494.3 C214.5,494.1 225.9,495.0 236.1,496.6 C246.2,498.2 258.4,501.8 266.5,504.2 C274.6,506.6 280.6,508.4 284.8,511.1 C289.0,513.8 290.7,516.9 291.6,520.2 C292.5,523.5 291.8,527.7 290.1,530.9 C288.5,534.1 284.6,537.4 281.7,539.2 C278.8,541.0 275.1,541.9 272.6,541.5 C270.1,541.1 271.3,538.4 266.5,536.9 C261.7,535.4 251.8,533.7 243.7,532.4 C235.6,531.1 226.7,530.1 217.8,529.3 C208.9,528.5 197.8,528.5 190.4,527.8 C183.1,527.0 177.6,526.1 173.7,524.8 C169.8,523.5 168.1,522.0 166.8,520.2 C165.5,518.4 165.5,516.9 166.1,514.1Z" fill="url(#eg0)"/><g clip-path="url(#ec0)"><path d="M166.1,514.1 C166.7,511.3 167.8,506.2 170.6,503.5 C173.4,500.8 177.0,499.6 182.8,498.1 C188.6,496.6 196.7,494.6 205.6,494.3 C214.5,494.1 225.9,495.0 236.1,496.6 C246.2,498.2 258.4,501.8 266.5,504.2 C274.6,506.6 280.6,508.4 284.8,511.1 C289.0,513.8 290.7,516.9 291.6,520.2 C292.5,523.5 291.8,527.7 290.1,530.9 C288.5,534.1 284.6,537.4 281.7,539.2 C278.8,541.0 275.1,541.9 272.6,541.5 C270.1,541.1 271.3,538.4 266.5,536.9 C261.7,535.4 251.8,533.7 243.7,532.4 C235.6,531.1 226.7,530.1 217.8,529.3 C208.9,528.5 197.8,528.5 190.4,527.8 C183.1,527.0 177.6,526.1 173.7,524.8 C169.8,523.5 168.1,522.0 166.8,520.2 C165.5,518.4 165.5,516.9 166.1,514.1Z" fill="none" stroke="#4e3a3a" stroke-width="7" stroke-opacity="0.8" filter="url(#rim)"/><path d="M166.1,514.1 C166.7,511.3 167.8,506.2 170.6,503.5 C173.4,500.8 177.0,499.6 182.8,498.1 C188.6,496.6 196.7,494.6 205.6,494.3 C214.5,494.1 225.9,495.0 236.1,496.6 C246.2,498.2 258.4,501.8 266.5,504.2 C274.6,506.6 280.6,508.4 284.8,511.1 C289.0,513.8 290.7,516.9 291.6,520.2 C292.5,523.5 291.8,527.7 290.1,530.9 C288.5,534.1 284.6,537.4 281.7,539.2 C278.8,541.0 275.1,541.9 272.6,541.5 C270.1,541.1 271.3,538.4 266.5,536.9 C261.7,535.4 251.8,533.7 243.7,532.4 C235.6,531.1 226.7,530.1 217.8,529.3 C208.9,528.5 197.8,528.5 190.4,527.8 C183.1,527.0 177.6,526.1 173.7,524.8 C169.8,523.5 168.1,522.0 166.8,520.2 C165.5,518.4 165.5,516.9 166.1,514.1Z" fill="#2e2020" fill-opacity="0.3" filter="url(#tex)"/><path d="M166.1,514.1 C166.7,511.3 167.8,506.2 170.6,503.5 C173.4,500.8 177.0,499.6 182.8,498.1 C188.6,496.6 196.7,494.6 205.6,494.3 C214.5,494.1 225.9,495.0 236.1,496.6 C246.2,498.2 258.4,501.8 266.5,504.2 C274.6,506.6 280.6,508.4 284.8,511.1 C289.0,513.8 290.7,516.9 291.6,520.2 C292.5,523.5 291.8,527.7 290.1,530.9 C288.5,534.1 284.6,537.4 281.7,539.2 C278.8,541.0 275.1,541.9 272.6,541.5 C270.1,541.1 271.3,538.4 266.5,536.9 C261.7,535.4 251.8,533.7 243.7,532.4 C235.6,531.1 226.7,530.1 217.8,529.3 C208.9,528.5 197.8,528.5 190.4,527.8 C183.1,527.0 177.6,526.1 173.7,524.8 C169.8,523.5 168.1,522.0 166.8,520.2 C165.5,518.4 165.5,516.9 166.1,514.1Z" fill="#bca08a" fill-opacity="0.35" filter="url(#tex2)"/></g>
<path d="M287.6,510.6 C287.9,507.1 288.9,501.9 292.2,498.4 C295.5,494.8 299.3,492.5 307.4,489.3 C315.5,486.1 330.2,481.9 340.8,479.4 C351.4,476.9 361.6,475.1 371.2,474.1 C380.8,473.1 391.5,472.6 398.6,473.4 C405.7,474.2 410.8,476.3 413.8,478.7 C416.8,481.1 417.3,484.5 416.8,487.8 C416.3,491.1 413.7,495.4 410.7,498.4 C407.7,501.4 405.2,504.0 398.6,506.0 C392.0,508.0 380.8,509.1 371.2,510.6 C361.6,512.1 350.2,513.4 340.8,515.2 C331.4,517.0 321.8,519.7 315.0,521.2 C308.2,522.7 303.9,524.5 299.8,524.3 C295.7,524.0 292.6,522.0 290.6,519.7 C288.6,517.4 287.3,514.2 287.6,510.6Z" fill="none" stroke="#eef2f6" stroke-width="3" stroke-opacity="0.85" filter="url(#soft)"/><path d="M287.6,510.6 C287.9,507.1 288.9,501.9 292.2,498.4 C295.5,494.8 299.3,492.5 307.4,489.3 C315.5,486.1 330.2,481.9 340.8,479.4 C351.4,476.9 361.6,475.1 371.2,474.1 C380.8,473.1 391.5,472.6 398.6,473.4 C405.7,474.2 410.8,476.3 413.8,478.7 C416.8,481.1 417.3,484.5 416.8,487.8 C416.3,491.1 413.7,495.4 410.7,498.4 C407.7,501.4 405.2,504.0 398.6,506.0 C392.0,508.0 380.8,509.1 371.2,510.6 C361.6,512.1 350.2,513.4 340.8,515.2 C331.4,517.0 321.8,519.7 315.0,521.2 C308.2,522.7 303.9,524.5 299.8,524.3 C295.7,524.0 292.6,522.0 290.6,519.7 C288.6,517.4 287.3,514.2 287.6,510.6Z" fill="url(#eg1)"/><g clip-path="url(#ec1)"><path d="M287.6,510.6 C287.9,507.1 288.9,501.9 292.2,498.4 C295.5,494.8 299.3,492.5 307.4,489.3 C315.5,486.1 330.2,481.9 340.8,479.4 C351.4,476.9 361.6,475.1 371.2,474.1 C380.8,473.1 391.5,472.6 398.6,473.4 C405.7,474.2 410.8,476.3 413.8,478.7 C416.8,481.1 417.3,484.5 416.8,487.8 C416.3,491.1 413.7,495.4 410.7,498.4 C407.7,501.4 405.2,504.0 398.6,506.0 C392.0,508.0 380.8,509.1 371.2,510.6 C361.6,512.1 350.2,513.4 340.8,515.2 C331.4,517.0 321.8,519.7 315.0,521.2 C308.2,522.7 303.9,524.5 299.8,524.3 C295.7,524.0 292.6,522.0 290.6,519.7 C288.6,517.4 287.3,514.2 287.6,510.6Z" fill="none" stroke="#4e3a3a" stroke-width="7" stroke-opacity="0.8" filter="url(#rim)"/><path d="M287.6,510.6 C287.9,507.1 288.9,501.9 292.2,498.4 C295.5,494.8 299.3,492.5 307.4,489.3 C315.5,486.1 330.2,481.9 340.8,479.4 C351.4,476.9 361.6,475.1 371.2,474.1 C380.8,473.1 391.5,472.6 398.6,473.4 C405.7,474.2 410.8,476.3 413.8,478.7 C416.8,481.1 417.3,484.5 416.8,487.8 C416.3,491.1 413.7,495.4 410.7,498.4 C407.7,501.4 405.2,504.0 398.6,506.0 C392.0,508.0 380.8,509.1 371.2,510.6 C361.6,512.1 350.2,513.4 340.8,515.2 C331.4,517.0 321.8,519.7 315.0,521.2 C308.2,522.7 303.9,524.5 299.8,524.3 C295.7,524.0 292.6,522.0 290.6,519.7 C288.6,517.4 287.3,514.2 287.6,510.6Z" fill="#2e2020" fill-opacity="0.3" filter="url(#tex)"/><path d="M287.6,510.6 C287.9,507.1 288.9,501.9 292.2,498.4 C295.5,494.8 299.3,492.5 307.4,489.3 C315.5,486.1 330.2,481.9 340.8,479.4 C351.4,476.9 361.6,475.1 371.2,474.1 C380.8,473.1 391.5,472.6 398.6,473.4 C405.7,474.2 410.8,476.3 413.8,478.7 C416.8,481.1 417.3,484.5 416.8,487.8 C416.3,491.1 413.7,495.4 410.7,498.4 C407.7,501.4 405.2,504.0 398.6,506.0 C392.0,508.0 380.8,509.1 371.2,510.6 C361.6,512.1 350.2,513.4 340.8,515.2 C331.4,517.0 321.8,519.7 315.0,521.2 C308.2,522.7 303.9,524.5 299.8,524.3 C295.7,524.0 292.6,522.0 290.6,519.7 C288.6,517.4 287.3,514.2 287.6,510.6Z" fill="#b89c86" fill-opacity="0.35" filter="url(#tex2)"/></g>
<path d="M186.6,546.1 C186.8,543.0 188.0,539.3 190.4,536.9 C192.8,534.5 196.0,532.5 201.1,531.6 C206.2,530.7 213.8,531.0 220.9,531.6 C228.0,532.2 236.1,533.2 243.7,535.4 C251.3,537.5 259.1,541.3 266.5,544.5 C273.9,547.7 282.2,551.4 287.8,554.4 C293.4,557.4 297.5,559.6 300.0,562.8 C302.5,566.0 303.5,570.0 303.0,573.5 C302.5,577.0 299.2,581.7 296.9,584.1 C294.6,586.5 293.1,587.6 289.3,587.9 C285.5,588.1 280.4,587.0 274.1,585.6 C267.8,584.2 260.2,582.3 251.3,579.5 C242.4,576.7 229.8,571.7 220.9,568.9 C212.0,566.1 203.3,565.1 198.0,562.8 C192.7,560.5 190.8,558.0 188.9,555.2 C187.0,552.4 186.3,549.2 186.6,546.1Z" fill="none" stroke="#eef2f6" stroke-width="3" stroke-opacity="0.85" filter="url(#soft)"/><path d="M186.6,546.1 C186.8,543.0 188.0,539.3 190.4,536.9 C192.8,534.5 196.0,532.5 201.1,531.6 C206.2,530.7 213.8,531.0 220.9,531.6 C228.0,532.2 236.1,533.2 243.7,535.4 C251.3,537.5 259.1,541.3 266.5,544.5 C273.9,547.7 282.2,551.4 287.8,554.4 C293.4,557.4 297.5,559.6 300.0,562.8 C302.5,566.0 303.5,570.0 303.0,573.5 C302.5,577.0 299.2,581.7 296.9,584.1 C294.6,586.5 293.1,587.6 289.3,587.9 C285.5,588.1 280.4,587.0 274.1,585.6 C267.8,584.2 260.2,582.3 251.3,579.5 C242.4,576.7 229.8,571.7 220.9,568.9 C212.0,566.1 203.3,565.1 198.0,562.8 C192.7,560.5 190.8,558.0 188.9,555.2 C187.0,552.4 186.3,549.2 186.6,546.1Z" fill="url(#eg2)"/><g clip-path="url(#ec2)"><path d="M186.6,546.1 C186.8,543.0 188.0,539.3 190.4,536.9 C192.8,534.5 196.0,532.5 201.1,531.6 C206.2,530.7 213.8,531.0 220.9,531.6 C228.0,532.2 236.1,533.2 243.7,535.4 C251.3,537.5 259.1,541.3 266.5,544.5 C273.9,547.7 282.2,551.4 287.8,554.4 C293.4,557.4 297.5,559.6 300.0,562.8 C302.5,566.0 303.5,570.0 303.0,573.5 C302.5,577.0 299.2,581.7 296.9,584.1 C294.6,586.5 293.1,587.6 289.3,587.9 C285.5,588.1 280.4,587.0 274.1,585.6 C267.8,584.2 260.2,582.3 251.3,579.5 C242.4,576.7 229.8,571.7 220.9,568.9 C212.0,566.1 203.3,565.1 198.0,562.8 C192.7,560.5 190.8,558.0 188.9,555.2 C187.0,552.4 186.3,549.2 186.6,546.1Z" fill="none" stroke="#4e3a3a" stroke-width="7" stroke-opacity="0.8" filter="url(#rim)"/><path d="M186.6,546.1 C186.8,543.0 188.0,539.3 190.4,536.9 C192.8,534.5 196.0,532.5 201.1,531.6 C206.2,530.7 213.8,531.0 220.9,531.6 C228.0,532.2 236.1,533.2 243.7,535.4 C251.3,537.5 259.1,541.3 266.5,544.5 C273.9,547.7 282.2,551.4 287.8,554.4 C293.4,557.4 297.5,559.6 300.0,562.8 C302.5,566.0 303.5,570.0 303.0,573.5 C302.5,577.0 299.2,581.7 296.9,584.1 C294.6,586.5 293.1,587.6 289.3,587.9 C285.5,588.1 280.4,587.0 274.1,585.6 C267.8,584.2 260.2,582.3 251.3,579.5 C242.4,576.7 229.8,571.7 220.9,568.9 C212.0,566.1 203.3,565.1 198.0,562.8 C192.7,560.5 190.8,558.0 188.9,555.2 C187.0,552.4 186.3,549.2 186.6,546.1Z" fill="#2e2020" fill-opacity="0.3" filter="url(#tex)"/><path d="M186.6,546.1 C186.8,543.0 188.0,539.3 190.4,536.9 C192.8,534.5 196.0,532.5 201.1,531.6 C206.2,530.7 213.8,531.0 220.9,531.6 C228.0,532.2 236.1,533.2 243.7,535.4 C251.3,537.5 259.1,541.3 266.5,544.5 C273.9,547.7 282.2,551.4 287.8,554.4 C293.4,557.4 297.5,559.6 300.0,562.8 C302.5,566.0 303.5,570.0 303.0,573.5 C302.5,577.0 299.2,581.7 296.9,584.1 C294.6,586.5 293.1,587.6 289.3,587.9 C285.5,588.1 280.4,587.0 274.1,585.6 C267.8,584.2 260.2,582.3 251.3,579.5 C242.4,576.7 229.8,571.7 220.9,568.9 C212.0,566.1 203.3,565.1 198.0,562.8 C192.7,560.5 190.8,558.0 188.9,555.2 C187.0,552.4 186.3,549.2 186.6,546.1Z" fill="#c0a28c" fill-opacity="0.35" filter="url(#tex2)"/></g>
<path d="M291.4,550.1 C292.4,547.3 293.8,542.5 298.2,539.5 C302.6,536.5 309.6,534.0 318.0,531.9 C326.4,529.8 338.3,528.2 348.4,526.6 C358.5,525.0 369.9,522.9 378.8,522.0 C387.7,521.1 396.0,520.3 401.6,521.2 C407.2,522.1 410.2,524.8 412.2,527.3 C414.2,529.8 414.8,533.3 413.8,536.4 C412.8,539.5 410.8,542.8 406.2,545.6 C401.6,548.4 393.5,550.9 386.4,553.2 C379.3,555.5 370.7,556.9 363.6,559.2 C356.5,561.5 351.4,565.5 343.8,566.8 C336.2,568.1 324.1,566.3 318.0,566.8 C311.9,567.3 310.9,570.4 307.4,569.9 C303.8,569.4 299.2,566.1 296.7,563.8 C294.2,561.5 293.1,558.5 292.2,556.2 C291.3,553.9 290.4,552.9 291.4,550.1Z" fill="none" stroke="#eef2f6" stroke-width="3" stroke-opacity="0.85" filter="url(#soft)"/><path d="M291.4,550.1 C292.4,547.3 293.8,542.5 298.2,539.5 C302.6,536.5 309.6,534.0 318.0,531.9 C326.4,529.8 338.3,528.2 348.4,526.6 C358.5,525.0 369.9,522.9 378.8,522.0 C387.7,521.1 396.0,520.3 401.6,521.2 C407.2,522.1 410.2,524.8 412.2,527.3 C414.2,529.8 414.8,533.3 413.8,536.4 C412.8,539.5 410.8,542.8 406.2,545.6 C401.6,548.4 393.5,550.9 386.4,553.2 C379.3,555.5 370.7,556.9 363.6,559.2 C356.5,561.5 351.4,565.5 343.8,566.8 C336.2,568.1 324.1,566.3 318.0,566.8 C311.9,567.3 310.9,570.4 307.4,569.9 C303.8,569.4 299.2,566.1 296.7,563.8 C294.2,561.5 293.1,558.5 292.2,556.2 C291.3,553.9 290.4,552.9 291.4,550.1Z" fill="url(#eg3)"/><g clip-path="url(#ec3)"><path d="M291.4,550.1 C292.4,547.3 293.8,542.5 298.2,539.5 C302.6,536.5 309.6,534.0 318.0,531.9 C326.4,529.8 338.3,528.2 348.4,526.6 C358.5,525.0 369.9,522.9 378.8,522.0 C387.7,521.1 396.0,520.3 401.6,521.2 C407.2,522.1 410.2,524.8 412.2,527.3 C414.2,529.8 414.8,533.3 413.8,536.4 C412.8,539.5 410.8,542.8 406.2,545.6 C401.6,548.4 393.5,550.9 386.4,553.2 C379.3,555.5 370.7,556.9 363.6,559.2 C356.5,561.5 351.4,565.5 343.8,566.8 C336.2,568.1 324.1,566.3 318.0,566.8 C311.9,567.3 310.9,570.4 307.4,569.9 C303.8,569.4 299.2,566.1 296.7,563.8 C294.2,561.5 293.1,558.5 292.2,556.2 C291.3,553.9 290.4,552.9 291.4,550.1Z" fill="none" stroke="#523f3c" stroke-width="7" stroke-opacity="0.8" filter="url(#rim)"/><path d="M291.4,550.1 C292.4,547.3 293.8,542.5 298.2,539.5 C302.6,536.5 309.6,534.0 318.0,531.9 C326.4,529.8 338.3,528.2 348.4,526.6 C358.5,525.0 369.9,522.9 378.8,522.0 C387.7,521.1 396.0,520.3 401.6,521.2 C407.2,522.1 410.2,524.8 412.2,527.3 C414.2,529.8 414.8,533.3 413.8,536.4 C412.8,539.5 410.8,542.8 406.2,545.6 C401.6,548.4 393.5,550.9 386.4,553.2 C379.3,555.5 370.7,556.9 363.6,559.2 C356.5,561.5 351.4,565.5 343.8,566.8 C336.2,568.1 324.1,566.3 318.0,566.8 C311.9,567.3 310.9,570.4 307.4,569.9 C303.8,569.4 299.2,566.1 296.7,563.8 C294.2,561.5 293.1,558.5 292.2,556.2 C291.3,553.9 290.4,552.9 291.4,550.1Z" fill="#2e2020" fill-opacity="0.3" filter="url(#tex)"/><path d="M291.4,550.1 C292.4,547.3 293.8,542.5 298.2,539.5 C302.6,536.5 309.6,534.0 318.0,531.9 C326.4,529.8 338.3,528.2 348.4,526.6 C358.5,525.0 369.9,522.9 378.8,522.0 C387.7,521.1 396.0,520.3 401.6,521.2 C407.2,522.1 410.2,524.8 412.2,527.3 C414.2,529.8 414.8,533.3 413.8,536.4 C412.8,539.5 410.8,542.8 406.2,545.6 C401.6,548.4 393.5,550.9 386.4,553.2 C379.3,555.5 370.7,556.9 363.6,559.2 C356.5,561.5 351.4,565.5 343.8,566.8 C336.2,568.1 324.1,566.3 318.0,566.8 C311.9,567.3 310.9,570.4 307.4,569.9 C303.8,569.4 299.2,566.1 296.7,563.8 C294.2,561.5 293.1,558.5 292.2,556.2 C291.3,553.9 290.4,552.9 291.4,550.1Z" fill="#dccc9e" fill-opacity="0.35" filter="url(#tex2)"/></g>
<ellipse cx="142.5" cy="722.5" rx="9" ry="8" fill="url(#bump)"/>
<path d="M73.6,635.3 C74.2,632.6 75.6,629.2 78.8,627.5 C82.0,625.8 87.4,624.8 92.6,624.9 C97.8,625.0 104.7,626.4 109.9,628.4 C115.1,630.4 120.8,633.8 123.7,637.0 C126.6,640.2 127.8,644.5 127.2,647.4 C126.6,650.3 122.6,652.9 120.3,654.3 C118.0,655.7 115.1,654.4 113.4,656.0 C111.7,657.6 111.9,661.9 109.9,663.8 C107.9,665.7 104.2,667.4 101.3,667.2 C98.4,667.1 95.8,665.4 92.6,662.9 C89.4,660.4 85.2,655.7 82.3,652.5 C79.4,649.3 76.9,646.8 75.4,643.9 C74.0,641.0 73.0,638.0 73.6,635.3Z" fill="url(#eg4)"/><g clip-path="url(#ec4)"><path d="M73.6,635.3 C74.2,632.6 75.6,629.2 78.8,627.5 C82.0,625.8 87.4,624.8 92.6,624.9 C97.8,625.0 104.7,626.4 109.9,628.4 C115.1,630.4 120.8,633.8 123.7,637.0 C126.6,640.2 127.8,644.5 127.2,647.4 C126.6,650.3 122.6,652.9 120.3,654.3 C118.0,655.7 115.1,654.4 113.4,656.0 C111.7,657.6 111.9,661.9 109.9,663.8 C107.9,665.7 104.2,667.4 101.3,667.2 C98.4,667.1 95.8,665.4 92.6,662.9 C89.4,660.4 85.2,655.7 82.3,652.5 C79.4,649.3 76.9,646.8 75.4,643.9 C74.0,641.0 73.0,638.0 73.6,635.3Z" fill="none" stroke="#321622" stroke-width="7" stroke-opacity="0.8" filter="url(#rim)"/><path d="M73.6,635.3 C74.2,632.6 75.6,629.2 78.8,627.5 C82.0,625.8 87.4,624.8 92.6,624.9 C97.8,625.0 104.7,626.4 109.9,628.4 C115.1,630.4 120.8,633.8 123.7,637.0 C126.6,640.2 127.8,644.5 127.2,647.4 C126.6,650.3 122.6,652.9 120.3,654.3 C118.0,655.7 115.1,654.4 113.4,656.0 C111.7,657.6 111.9,661.9 109.9,663.8 C107.9,665.7 104.2,667.4 101.3,667.2 C98.4,667.1 95.8,665.4 92.6,662.9 C89.4,660.4 85.2,655.7 82.3,652.5 C79.4,649.3 76.9,646.8 75.4,643.9 C74.0,641.0 73.0,638.0 73.6,635.3Z" fill="#200a14" fill-opacity="0.3" filter="url(#tex)"/><path d="M73.6,635.3 C74.2,632.6 75.6,629.2 78.8,627.5 C82.0,625.8 87.4,624.8 92.6,624.9 C97.8,625.0 104.7,626.4 109.9,628.4 C115.1,630.4 120.8,633.8 123.7,637.0 C126.6,640.2 127.8,644.5 127.2,647.4 C126.6,650.3 122.6,652.9 120.3,654.3 C118.0,655.7 115.1,654.4 113.4,656.0 C111.7,657.6 111.9,661.9 109.9,663.8 C107.9,665.7 104.2,667.4 101.3,667.2 C98.4,667.1 95.8,665.4 92.6,662.9 C89.4,660.4 85.2,655.7 82.3,652.5 C79.4,649.3 76.9,646.8 75.4,643.9 C74.0,641.0 73.0,638.0 73.6,635.3Z" fill="#9a5474" fill-opacity="0.35" filter="url(#tex2)"/></g>
<path d="M126.3,650.8 C126.9,648.2 129.9,646.5 134.1,643.9 C138.3,641.3 145.7,637.4 151.4,635.3 C157.2,633.2 163.7,631.2 168.6,631.5 C173.5,631.8 178.0,633.8 180.7,637.0 C183.4,640.2 185.0,646.5 185.0,650.8 C185.0,655.1 183.4,659.4 180.7,662.9 C178.0,666.4 173.2,669.8 168.6,671.5 C164.0,673.2 157.7,673.9 153.1,673.3 C148.5,672.7 144.8,670.4 141.0,668.1 C137.2,665.8 133.0,662.4 130.6,659.5 C128.2,656.6 125.7,653.4 126.3,650.8Z" fill="url(#eg5)"/><g clip-path="url(#ec5)"><path d="M126.3,650.8 C126.9,648.2 129.9,646.5 134.1,643.9 C138.3,641.3 145.7,637.4 151.4,635.3 C157.2,633.2 163.7,631.2 168.6,631.5 C173.5,631.8 178.0,633.8 180.7,637.0 C183.4,640.2 185.0,646.5 185.0,650.8 C185.0,655.1 183.4,659.4 180.7,662.9 C178.0,666.4 173.2,669.8 168.6,671.5 C164.0,673.2 157.7,673.9 153.1,673.3 C148.5,672.7 144.8,670.4 141.0,668.1 C137.2,665.8 133.0,662.4 130.6,659.5 C128.2,656.6 125.7,653.4 126.3,650.8Z" fill="none" stroke="#321622" stroke-width="7" stroke-opacity="0.8" filter="url(#rim)"/><path d="M126.3,650.8 C126.9,648.2 129.9,646.5 134.1,643.9 C138.3,641.3 145.7,637.4 151.4,635.3 C157.2,633.2 163.7,631.2 168.6,631.5 C173.5,631.8 178.0,633.8 180.7,637.0 C183.4,640.2 185.0,646.5 185.0,650.8 C185.0,655.1 183.4,659.4 180.7,662.9 C178.0,666.4 173.2,669.8 168.6,671.5 C164.0,673.2 157.7,673.9 153.1,673.3 C148.5,672.7 144.8,670.4 141.0,668.1 C137.2,665.8 133.0,662.4 130.6,659.5 C128.2,656.6 125.7,653.4 126.3,650.8Z" fill="#200a14" fill-opacity="0.3" filter="url(#tex)"/><path d="M126.3,650.8 C126.9,648.2 129.9,646.5 134.1,643.9 C138.3,641.3 145.7,637.4 151.4,635.3 C157.2,633.2 163.7,631.2 168.6,631.5 C173.5,631.8 178.0,633.8 180.7,637.0 C183.4,640.2 185.0,646.5 185.0,650.8 C185.0,655.1 183.4,659.4 180.7,662.9 C178.0,666.4 173.2,669.8 168.6,671.5 C164.0,673.2 157.7,673.9 153.1,673.3 C148.5,672.7 144.8,670.4 141.0,668.1 C137.2,665.8 133.0,662.4 130.6,659.5 C128.2,656.6 125.7,653.4 126.3,650.8Z" fill="#9a5474" fill-opacity="0.35" filter="url(#tex2)"/></g>
<path d="M58.5,677.0 C59.2,675.0 60.1,674.1 63.4,672.2 C66.7,670.3 72.1,665.9 78.0,665.5 C83.9,665.1 92.6,668.0 98.7,669.7 C104.8,671.4 110.7,672.9 114.5,675.8 C118.3,678.6 120.2,683.3 121.8,686.8 C123.4,690.2 124.6,693.5 124.2,696.5 C123.8,699.5 122.2,702.9 119.4,705.0 C116.6,707.1 112.1,709.3 107.2,709.3 C102.3,709.3 95.7,706.7 90.2,705.0 C84.7,703.3 79.0,701.1 74.3,698.9 C69.6,696.7 64.7,694.0 62.2,691.6 C59.7,689.2 59.7,686.7 59.1,684.3 C58.5,681.9 57.8,679.0 58.5,677.0Z" fill="url(#eg6)"/><g clip-path="url(#ec6)"><path d="M58.5,677.0 C59.2,675.0 60.1,674.1 63.4,672.2 C66.7,670.3 72.1,665.9 78.0,665.5 C83.9,665.1 92.6,668.0 98.7,669.7 C104.8,671.4 110.7,672.9 114.5,675.8 C118.3,678.6 120.2,683.3 121.8,686.8 C123.4,690.2 124.6,693.5 124.2,696.5 C123.8,699.5 122.2,702.9 119.4,705.0 C116.6,707.1 112.1,709.3 107.2,709.3 C102.3,709.3 95.7,706.7 90.2,705.0 C84.7,703.3 79.0,701.1 74.3,698.9 C69.6,696.7 64.7,694.0 62.2,691.6 C59.7,689.2 59.7,686.7 59.1,684.3 C58.5,681.9 57.8,679.0 58.5,677.0Z" fill="none" stroke="#321622" stroke-width="7" stroke-opacity="0.8" filter="url(#rim)"/><path d="M58.5,677.0 C59.2,675.0 60.1,674.1 63.4,672.2 C66.7,670.3 72.1,665.9 78.0,665.5 C83.9,665.1 92.6,668.0 98.7,669.7 C104.8,671.4 110.7,672.9 114.5,675.8 C118.3,678.6 120.2,683.3 121.8,686.8 C123.4,690.2 124.6,693.5 124.2,696.5 C123.8,699.5 122.2,702.9 119.4,705.0 C116.6,707.1 112.1,709.3 107.2,709.3 C102.3,709.3 95.7,706.7 90.2,705.0 C84.7,703.3 79.0,701.1 74.3,698.9 C69.6,696.7 64.7,694.0 62.2,691.6 C59.7,689.2 59.7,686.7 59.1,684.3 C58.5,681.9 57.8,679.0 58.5,677.0Z" fill="#200a14" fill-opacity="0.3" filter="url(#tex)"/><path d="M58.5,677.0 C59.2,675.0 60.1,674.1 63.4,672.2 C66.7,670.3 72.1,665.9 78.0,665.5 C83.9,665.1 92.6,668.0 98.7,669.7 C104.8,671.4 110.7,672.9 114.5,675.8 C118.3,678.6 120.2,683.3 121.8,686.8 C123.4,690.2 124.6,693.5 124.2,696.5 C123.8,699.5 122.2,702.9 119.4,705.0 C116.6,707.1 112.1,709.3 107.2,709.3 C102.3,709.3 95.7,706.7 90.2,705.0 C84.7,703.3 79.0,701.1 74.3,698.9 C69.6,696.7 64.7,694.0 62.2,691.6 C59.7,689.2 59.7,686.7 59.1,684.3 C58.5,681.9 57.8,679.0 58.5,677.0Z" fill="#9a5474" fill-opacity="0.35" filter="url(#tex2)"/></g>
<path d="M178.1,675.0 C178.7,671.3 180.6,665.5 184.2,661.2 C187.8,656.9 193.7,652.1 199.7,649.1 C205.7,646.1 213.5,643.9 220.4,643.0 C227.3,642.1 235.4,642.6 241.2,643.9 C247.0,645.2 252.1,647.6 255.0,650.8 C257.9,654.0 258.7,658.9 258.4,662.9 C258.1,666.9 256.8,672.3 253.3,675.0 C249.9,677.7 243.2,678.1 237.7,679.3 C232.2,680.4 226.2,680.6 220.4,681.9 C214.7,683.2 208.4,686.0 203.2,687.1 C198.0,688.2 193.2,689.4 189.4,688.8 C185.7,688.2 182.6,685.9 180.7,683.6 C178.8,681.3 177.5,678.7 178.1,675.0Z" fill="url(#eg7)"/><g clip-path="url(#ec7)"><path d="M178.1,675.0 C178.7,671.3 180.6,665.5 184.2,661.2 C187.8,656.9 193.7,652.1 199.7,649.1 C205.7,646.1 213.5,643.9 220.4,643.0 C227.3,642.1 235.4,642.6 241.2,643.9 C247.0,645.2 252.1,647.6 255.0,650.8 C257.9,654.0 258.7,658.9 258.4,662.9 C258.1,666.9 256.8,672.3 253.3,675.0 C249.9,677.7 243.2,678.1 237.7,679.3 C232.2,680.4 226.2,680.6 220.4,681.9 C214.7,683.2 208.4,686.0 203.2,687.1 C198.0,688.2 193.2,689.4 189.4,688.8 C185.7,688.2 182.6,685.9 180.7,683.6 C178.8,681.3 177.5,678.7 178.1,675.0Z" fill="none" stroke="#321622" stroke-width="7" stroke-opacity="0.8" filter="url(#rim)"/><path d="M178.1,675.0 C178.7,671.3 180.6,665.5 184.2,661.2 C187.8,656.9 193.7,652.1 199.7,649.1 C205.7,646.1 213.5,643.9 220.4,643.0 C227.3,642.1 235.4,642.6 241.2,643.9 C247.0,645.2 252.1,647.6 255.0,650.8 C257.9,654.0 258.7,658.9 258.4,662.9 C258.1,666.9 256.8,672.3 253.3,675.0 C249.9,677.7 243.2,678.1 237.7,679.3 C232.2,680.4 226.2,680.6 220.4,681.9 C214.7,683.2 208.4,686.0 203.2,687.1 C198.0,688.2 193.2,689.4 189.4,688.8 C185.7,688.2 182.6,685.9 180.7,683.6 C178.8,681.3 177.5,678.7 178.1,675.0Z" fill="#200a14" fill-opacity="0.3" filter="url(#tex)"/><path d="M178.1,675.0 C178.7,671.3 180.6,665.5 184.2,661.2 C187.8,656.9 193.7,652.1 199.7,649.1 C205.7,646.1 213.5,643.9 220.4,643.0 C227.3,642.1 235.4,642.6 241.2,643.9 C247.0,645.2 252.1,647.6 255.0,650.8 C257.9,654.0 258.7,658.9 258.4,662.9 C258.1,666.9 256.8,672.3 253.3,675.0 C249.9,677.7 243.2,678.1 237.7,679.3 C232.2,680.4 226.2,680.6 220.4,681.9 C214.7,683.2 208.4,686.0 203.2,687.1 C198.0,688.2 193.2,689.4 189.4,688.8 C185.7,688.2 182.6,685.9 180.7,683.6 C178.8,681.3 177.5,678.7 178.1,675.0Z" fill="#9a5474" fill-opacity="0.35" filter="url(#tex2)"/></g>
<path d="M169.5,738.9 C169.5,735.2 169.4,730.3 172.1,725.1 C174.8,719.9 180.2,712.4 185.9,707.8 C191.7,703.2 200.3,700.8 206.6,697.4 C212.9,694.0 218.4,690.0 223.9,687.1 C229.4,684.2 235.4,680.5 239.4,680.2 C243.4,679.9 246.1,682.8 248.1,685.4 C250.1,688.0 252.1,691.1 251.5,695.7 C250.9,700.3 248.0,707.0 244.6,713.0 C241.2,719.0 235.4,726.8 230.8,732.0 C226.2,737.2 222.2,740.9 217.0,744.1 C211.8,747.3 205.5,749.6 199.7,751.0 C193.9,752.4 187.0,753.3 182.4,752.7 C177.8,752.1 174.2,749.8 172.1,747.5 C169.9,745.2 169.5,742.6 169.5,738.9Z" fill="url(#eg8)"/><g clip-path="url(#ec8)"><path d="M169.5,738.9 C169.5,735.2 169.4,730.3 172.1,725.1 C174.8,719.9 180.2,712.4 185.9,707.8 C191.7,703.2 200.3,700.8 206.6,697.4 C212.9,694.0 218.4,690.0 223.9,687.1 C229.4,684.2 235.4,680.5 239.4,680.2 C243.4,679.9 246.1,682.8 248.1,685.4 C250.1,688.0 252.1,691.1 251.5,695.7 C250.9,700.3 248.0,707.0 244.6,713.0 C241.2,719.0 235.4,726.8 230.8,732.0 C226.2,737.2 222.2,740.9 217.0,744.1 C211.8,747.3 205.5,749.6 199.7,751.0 C193.9,752.4 187.0,753.3 182.4,752.7 C177.8,752.1 174.2,749.8 172.1,747.5 C169.9,745.2 169.5,742.6 169.5,738.9Z" fill="none" stroke="#321622" stroke-width="7" stroke-opacity="0.8" filter="url(#rim)"/><path d="M169.5,738.9 C169.5,735.2 169.4,730.3 172.1,725.1 C174.8,719.9 180.2,712.4 185.9,707.8 C191.7,703.2 200.3,700.8 206.6,697.4 C212.9,694.0 218.4,690.0 223.9,687.1 C229.4,684.2 235.4,680.5 239.4,680.2 C243.4,679.9 246.1,682.8 248.1,685.4 C250.1,688.0 252.1,691.1 251.5,695.7 C250.9,700.3 248.0,707.0 244.6,713.0 C241.2,719.0 235.4,726.8 230.8,732.0 C226.2,737.2 222.2,740.9 217.0,744.1 C211.8,747.3 205.5,749.6 199.7,751.0 C193.9,752.4 187.0,753.3 182.4,752.7 C177.8,752.1 174.2,749.8 172.1,747.5 C169.9,745.2 169.5,742.6 169.5,738.9Z" fill="#200a14" fill-opacity="0.3" filter="url(#tex)"/><path d="M169.5,738.9 C169.5,735.2 169.4,730.3 172.1,725.1 C174.8,719.9 180.2,712.4 185.9,707.8 C191.7,703.2 200.3,700.8 206.6,697.4 C212.9,694.0 218.4,690.0 223.9,687.1 C229.4,684.2 235.4,680.5 239.4,680.2 C243.4,679.9 246.1,682.8 248.1,685.4 C250.1,688.0 252.1,691.1 251.5,695.7 C250.9,700.3 248.0,707.0 244.6,713.0 C241.2,719.0 235.4,726.8 230.8,732.0 C226.2,737.2 222.2,740.9 217.0,744.1 C211.8,747.3 205.5,749.6 199.7,751.0 C193.9,752.4 187.0,753.3 182.4,752.7 C177.8,752.1 174.2,749.8 172.1,747.5 C169.9,745.2 169.5,742.6 169.5,738.9Z" fill="#9a5474" fill-opacity="0.35" filter="url(#tex2)"/></g>
<path d="M68.5,722.0 C68.4,719.4 69.2,716.2 70.5,714.5 C71.8,712.8 74.2,711.8 76.5,711.5 C78.8,711.2 81.2,711.8 84.0,712.5 C86.8,713.2 88.1,714.7 93.0,715.5 C97.9,716.3 106.6,716.5 113.3,717.2 C120.0,718.0 127.2,718.9 133.0,720.0 C138.8,721.1 144.3,722.2 148.0,724.0 C151.7,725.8 153.1,728.3 155.0,731.0 C156.9,733.7 159.3,737.3 159.5,740.3 C159.7,743.3 157.9,746.6 155.9,748.8 C153.9,751.0 150.9,752.5 147.4,753.7 C143.9,754.9 139.3,756.1 135.2,756.1 C131.1,756.1 128.1,755.1 123.0,753.7 C117.9,752.3 110.6,750.0 104.8,747.6 C99.0,745.2 92.5,741.5 88.0,739.5 C83.5,737.5 80.8,737.1 78.0,735.5 C75.2,733.9 72.6,732.2 71.0,730.0 C69.4,727.8 68.6,724.6 68.5,722.0Z" fill="url(#eg9)"/><g clip-path="url(#ec9)"><path d="M68.5,722.0 C68.4,719.4 69.2,716.2 70.5,714.5 C71.8,712.8 74.2,711.8 76.5,711.5 C78.8,711.2 81.2,711.8 84.0,712.5 C86.8,713.2 88.1,714.7 93.0,715.5 C97.9,716.3 106.6,716.5 113.3,717.2 C120.0,718.0 127.2,718.9 133.0,720.0 C138.8,721.1 144.3,722.2 148.0,724.0 C151.7,725.8 153.1,728.3 155.0,731.0 C156.9,733.7 159.3,737.3 159.5,740.3 C159.7,743.3 157.9,746.6 155.9,748.8 C153.9,751.0 150.9,752.5 147.4,753.7 C143.9,754.9 139.3,756.1 135.2,756.1 C131.1,756.1 128.1,755.1 123.0,753.7 C117.9,752.3 110.6,750.0 104.8,747.6 C99.0,745.2 92.5,741.5 88.0,739.5 C83.5,737.5 80.8,737.1 78.0,735.5 C75.2,733.9 72.6,732.2 71.0,730.0 C69.4,727.8 68.6,724.6 68.5,722.0Z" fill="none" stroke="#321622" stroke-width="7" stroke-opacity="0.8" filter="url(#rim)"/><path d="M68.5,722.0 C68.4,719.4 69.2,716.2 70.5,714.5 C71.8,712.8 74.2,711.8 76.5,711.5 C78.8,711.2 81.2,711.8 84.0,712.5 C86.8,713.2 88.1,714.7 93.0,715.5 C97.9,716.3 106.6,716.5 113.3,717.2 C120.0,718.0 127.2,718.9 133.0,720.0 C138.8,721.1 144.3,722.2 148.0,724.0 C151.7,725.8 153.1,728.3 155.0,731.0 C156.9,733.7 159.3,737.3 159.5,740.3 C159.7,743.3 157.9,746.6 155.9,748.8 C153.9,751.0 150.9,752.5 147.4,753.7 C143.9,754.9 139.3,756.1 135.2,756.1 C131.1,756.1 128.1,755.1 123.0,753.7 C117.9,752.3 110.6,750.0 104.8,747.6 C99.0,745.2 92.5,741.5 88.0,739.5 C83.5,737.5 80.8,737.1 78.0,735.5 C75.2,733.9 72.6,732.2 71.0,730.0 C69.4,727.8 68.6,724.6 68.5,722.0Z" fill="#200a14" fill-opacity="0.3" filter="url(#tex)"/><path d="M68.5,722.0 C68.4,719.4 69.2,716.2 70.5,714.5 C71.8,712.8 74.2,711.8 76.5,711.5 C78.8,711.2 81.2,711.8 84.0,712.5 C86.8,713.2 88.1,714.7 93.0,715.5 C97.9,716.3 106.6,716.5 113.3,717.2 C120.0,718.0 127.2,718.9 133.0,720.0 C138.8,721.1 144.3,722.2 148.0,724.0 C151.7,725.8 153.1,728.3 155.0,731.0 C156.9,733.7 159.3,737.3 159.5,740.3 C159.7,743.3 157.9,746.6 155.9,748.8 C153.9,751.0 150.9,752.5 147.4,753.7 C143.9,754.9 139.3,756.1 135.2,756.1 C131.1,756.1 128.1,755.1 123.0,753.7 C117.9,752.3 110.6,750.0 104.8,747.6 C99.0,745.2 92.5,741.5 88.0,739.5 C83.5,737.5 80.8,737.1 78.0,735.5 C75.2,733.9 72.6,732.2 71.0,730.0 C69.4,727.8 68.6,724.6 68.5,722.0Z" fill="#9a5474" fill-opacity="0.35" filter="url(#tex2)"/></g>
<path d="M441.1,642.0 C441.7,638.6 442.3,633.8 446.6,631.0 C450.9,628.2 459.0,626.8 467.0,625.4 C475.0,624.0 486.7,622.5 494.7,622.6 C502.7,622.8 510.1,624.3 515.0,626.3 C519.9,628.3 523.1,631.4 524.3,634.6 C525.5,637.8 524.6,642.8 522.4,645.7 C520.2,648.6 515.3,651.4 511.3,652.2 C507.3,653.0 502.7,651.2 498.4,650.4 C494.1,649.6 488.6,646.8 485.5,647.6 C482.4,648.4 483.0,653.5 479.9,655.0 C476.8,656.5 471.9,656.6 467.0,656.8 C462.1,656.9 454.3,656.8 450.3,655.9 C446.3,655.0 444.4,653.6 442.9,651.3 C441.4,649.0 440.5,645.4 441.1,642.0Z" fill="none" stroke="#dfe8f2" stroke-width="3" stroke-opacity="0.85" filter="url(#soft)"/><path d="M441.1,642.0 C441.7,638.6 442.3,633.8 446.6,631.0 C450.9,628.2 459.0,626.8 467.0,625.4 C475.0,624.0 486.7,622.5 494.7,622.6 C502.7,622.8 510.1,624.3 515.0,626.3 C519.9,628.3 523.1,631.4 524.3,634.6 C525.5,637.8 524.6,642.8 522.4,645.7 C520.2,648.6 515.3,651.4 511.3,652.2 C507.3,653.0 502.7,651.2 498.4,650.4 C494.1,649.6 488.6,646.8 485.5,647.6 C482.4,648.4 483.0,653.5 479.9,655.0 C476.8,656.5 471.9,656.6 467.0,656.8 C462.1,656.9 454.3,656.8 450.3,655.9 C446.3,655.0 444.4,653.6 442.9,651.3 C441.4,649.0 440.5,645.4 441.1,642.0Z" fill="url(#eg10)"/><g clip-path="url(#ec10)"><path d="M441.1,642.0 C441.7,638.6 442.3,633.8 446.6,631.0 C450.9,628.2 459.0,626.8 467.0,625.4 C475.0,624.0 486.7,622.5 494.7,622.6 C502.7,622.8 510.1,624.3 515.0,626.3 C519.9,628.3 523.1,631.4 524.3,634.6 C525.5,637.8 524.6,642.8 522.4,645.7 C520.2,648.6 515.3,651.4 511.3,652.2 C507.3,653.0 502.7,651.2 498.4,650.4 C494.1,649.6 488.6,646.8 485.5,647.6 C482.4,648.4 483.0,653.5 479.9,655.0 C476.8,656.5 471.9,656.6 467.0,656.8 C462.1,656.9 454.3,656.8 450.3,655.9 C446.3,655.0 444.4,653.6 442.9,651.3 C441.4,649.0 440.5,645.4 441.1,642.0Z" fill="none" stroke="#38322e" stroke-width="12" stroke-opacity="0.8" filter="url(#rim)"/><path d="M441.1,642.0 C441.7,638.6 442.3,633.8 446.6,631.0 C450.9,628.2 459.0,626.8 467.0,625.4 C475.0,624.0 486.7,622.5 494.7,622.6 C502.7,622.8 510.1,624.3 515.0,626.3 C519.9,628.3 523.1,631.4 524.3,634.6 C525.5,637.8 524.6,642.8 522.4,645.7 C520.2,648.6 515.3,651.4 511.3,652.2 C507.3,653.0 502.7,651.2 498.4,650.4 C494.1,649.6 488.6,646.8 485.5,647.6 C482.4,648.4 483.0,653.5 479.9,655.0 C476.8,656.5 471.9,656.6 467.0,656.8 C462.1,656.9 454.3,656.8 450.3,655.9 C446.3,655.0 444.4,653.6 442.9,651.3 C441.4,649.0 440.5,645.4 441.1,642.0Z" fill="#24221c" fill-opacity="0.3" filter="url(#tex)"/><path d="M441.1,642.0 C441.7,638.6 442.3,633.8 446.6,631.0 C450.9,628.2 459.0,626.8 467.0,625.4 C475.0,624.0 486.7,622.5 494.7,622.6 C502.7,622.8 510.1,624.3 515.0,626.3 C519.9,628.3 523.1,631.4 524.3,634.6 C525.5,637.8 524.6,642.8 522.4,645.7 C520.2,648.6 515.3,651.4 511.3,652.2 C507.3,653.0 502.7,651.2 498.4,650.4 C494.1,649.6 488.6,646.8 485.5,647.6 C482.4,648.4 483.0,653.5 479.9,655.0 C476.8,656.5 471.9,656.6 467.0,656.8 C462.1,656.9 454.3,656.8 450.3,655.9 C446.3,655.0 444.4,653.6 442.9,651.3 C441.4,649.0 440.5,645.4 441.1,642.0Z" fill="#c2c096" fill-opacity="0.35" filter="url(#tex2)"/></g>
<path d="M331.1,683.3 C331.2,680.4 332.2,675.6 335.0,672.2 C337.8,668.8 341.6,665.3 347.7,662.7 C353.8,660.1 363.8,657.2 371.4,656.7 C379.0,656.2 387.8,657.5 393.6,659.5 C399.4,661.5 402.8,665.3 406.2,669.0 C409.6,672.7 412.4,678.0 414.1,681.7 C415.8,685.4 416.8,688.7 416.5,691.2 C416.2,693.7 416.3,695.8 412.5,696.7 C408.7,697.6 399.7,697.1 393.6,696.7 C387.6,696.3 380.9,694.2 376.2,694.3 C371.4,694.4 368.3,696.6 365.1,697.5 C361.9,698.4 360.6,700.4 357.2,699.9 C353.8,699.4 348.3,696.0 344.5,694.3 C340.7,692.6 336.5,691.4 334.3,689.6 C332.1,687.8 331.0,686.2 331.1,683.3Z" fill="none" stroke="#dfe8f2" stroke-width="3" stroke-opacity="0.85" filter="url(#soft)"/><path d="M331.1,683.3 C331.2,680.4 332.2,675.6 335.0,672.2 C337.8,668.8 341.6,665.3 347.7,662.7 C353.8,660.1 363.8,657.2 371.4,656.7 C379.0,656.2 387.8,657.5 393.6,659.5 C399.4,661.5 402.8,665.3 406.2,669.0 C409.6,672.7 412.4,678.0 414.1,681.7 C415.8,685.4 416.8,688.7 416.5,691.2 C416.2,693.7 416.3,695.8 412.5,696.7 C408.7,697.6 399.7,697.1 393.6,696.7 C387.6,696.3 380.9,694.2 376.2,694.3 C371.4,694.4 368.3,696.6 365.1,697.5 C361.9,698.4 360.6,700.4 357.2,699.9 C353.8,699.4 348.3,696.0 344.5,694.3 C340.7,692.6 336.5,691.4 334.3,689.6 C332.1,687.8 331.0,686.2 331.1,683.3Z" fill="url(#eg11)"/><g clip-path="url(#ec11)"><path d="M331.1,683.3 C331.2,680.4 332.2,675.6 335.0,672.2 C337.8,668.8 341.6,665.3 347.7,662.7 C353.8,660.1 363.8,657.2 371.4,656.7 C379.0,656.2 387.8,657.5 393.6,659.5 C399.4,661.5 402.8,665.3 406.2,669.0 C409.6,672.7 412.4,678.0 414.1,681.7 C415.8,685.4 416.8,688.7 416.5,691.2 C416.2,693.7 416.3,695.8 412.5,696.7 C408.7,697.6 399.7,697.1 393.6,696.7 C387.6,696.3 380.9,694.2 376.2,694.3 C371.4,694.4 368.3,696.6 365.1,697.5 C361.9,698.4 360.6,700.4 357.2,699.9 C353.8,699.4 348.3,696.0 344.5,694.3 C340.7,692.6 336.5,691.4 334.3,689.6 C332.1,687.8 331.0,686.2 331.1,683.3Z" fill="none" stroke="#38322e" stroke-width="12" stroke-opacity="0.8" filter="url(#rim)"/><path d="M331.1,683.3 C331.2,680.4 332.2,675.6 335.0,672.2 C337.8,668.8 341.6,665.3 347.7,662.7 C353.8,660.1 363.8,657.2 371.4,656.7 C379.0,656.2 387.8,657.5 393.6,659.5 C399.4,661.5 402.8,665.3 406.2,669.0 C409.6,672.7 412.4,678.0 414.1,681.7 C415.8,685.4 416.8,688.7 416.5,691.2 C416.2,693.7 416.3,695.8 412.5,696.7 C408.7,697.6 399.7,697.1 393.6,696.7 C387.6,696.3 380.9,694.2 376.2,694.3 C371.4,694.4 368.3,696.6 365.1,697.5 C361.9,698.4 360.6,700.4 357.2,699.9 C353.8,699.4 348.3,696.0 344.5,694.3 C340.7,692.6 336.5,691.4 334.3,689.6 C332.1,687.8 331.0,686.2 331.1,683.3Z" fill="#24221c" fill-opacity="0.3" filter="url(#tex)"/><path d="M331.1,683.3 C331.2,680.4 332.2,675.6 335.0,672.2 C337.8,668.8 341.6,665.3 347.7,662.7 C353.8,660.1 363.8,657.2 371.4,656.7 C379.0,656.2 387.8,657.5 393.6,659.5 C399.4,661.5 402.8,665.3 406.2,669.0 C409.6,672.7 412.4,678.0 414.1,681.7 C415.8,685.4 416.8,688.7 416.5,691.2 C416.2,693.7 416.3,695.8 412.5,696.7 C408.7,697.6 399.7,697.1 393.6,696.7 C387.6,696.3 380.9,694.2 376.2,694.3 C371.4,694.4 368.3,696.6 365.1,697.5 C361.9,698.4 360.6,700.4 357.2,699.9 C353.8,699.4 348.3,696.0 344.5,694.3 C340.7,692.6 336.5,691.4 334.3,689.6 C332.1,687.8 331.0,686.2 331.1,683.3Z" fill="#dad6ac" fill-opacity="0.35" filter="url(#tex2)"/></g>
<path d="M316.1,722.8 C316.8,720.2 317.4,715.9 320.8,713.3 C324.2,710.7 328.7,708.3 336.6,707.0 C344.5,705.7 357.8,705.1 368.3,705.4 C378.9,705.7 391.5,707.3 399.9,708.6 C408.3,709.9 414.5,710.9 418.9,713.3 C423.2,715.7 425.5,719.4 426.0,722.8 C426.5,726.2 424.8,731.4 422.0,733.9 C419.2,736.4 414.4,737.4 409.4,737.8 C404.4,738.2 398.9,736.2 392.0,736.2 C385.1,736.2 376.2,737.1 368.3,737.8 C360.4,738.5 350.8,739.5 344.5,740.2 C338.2,740.9 334.2,742.6 330.3,741.8 C326.4,741.0 323.0,737.6 320.8,735.5 C318.6,733.4 317.7,731.2 316.9,729.1 C316.1,727.0 315.5,725.4 316.1,722.8Z" fill="none" stroke="#dfe8f2" stroke-width="3" stroke-opacity="0.85" filter="url(#soft)"/><path d="M316.1,722.8 C316.8,720.2 317.4,715.9 320.8,713.3 C324.2,710.7 328.7,708.3 336.6,707.0 C344.5,705.7 357.8,705.1 368.3,705.4 C378.9,705.7 391.5,707.3 399.9,708.6 C408.3,709.9 414.5,710.9 418.9,713.3 C423.2,715.7 425.5,719.4 426.0,722.8 C426.5,726.2 424.8,731.4 422.0,733.9 C419.2,736.4 414.4,737.4 409.4,737.8 C404.4,738.2 398.9,736.2 392.0,736.2 C385.1,736.2 376.2,737.1 368.3,737.8 C360.4,738.5 350.8,739.5 344.5,740.2 C338.2,740.9 334.2,742.6 330.3,741.8 C326.4,741.0 323.0,737.6 320.8,735.5 C318.6,733.4 317.7,731.2 316.9,729.1 C316.1,727.0 315.5,725.4 316.1,722.8Z" fill="url(#eg12)"/><g clip-path="url(#ec12)"><path d="M316.1,722.8 C316.8,720.2 317.4,715.9 320.8,713.3 C324.2,710.7 328.7,708.3 336.6,707.0 C344.5,705.7 357.8,705.1 368.3,705.4 C378.9,705.7 391.5,707.3 399.9,708.6 C408.3,709.9 414.5,710.9 418.9,713.3 C423.2,715.7 425.5,719.4 426.0,722.8 C426.5,726.2 424.8,731.4 422.0,733.9 C419.2,736.4 414.4,737.4 409.4,737.8 C404.4,738.2 398.9,736.2 392.0,736.2 C385.1,736.2 376.2,737.1 368.3,737.8 C360.4,738.5 350.8,739.5 344.5,740.2 C338.2,740.9 334.2,742.6 330.3,741.8 C326.4,741.0 323.0,737.6 320.8,735.5 C318.6,733.4 317.7,731.2 316.9,729.1 C316.1,727.0 315.5,725.4 316.1,722.8Z" fill="none" stroke="#38322e" stroke-width="12" stroke-opacity="0.8" filter="url(#rim)"/><path d="M316.1,722.8 C316.8,720.2 317.4,715.9 320.8,713.3 C324.2,710.7 328.7,708.3 336.6,707.0 C344.5,705.7 357.8,705.1 368.3,705.4 C378.9,705.7 391.5,707.3 399.9,708.6 C408.3,709.9 414.5,710.9 418.9,713.3 C423.2,715.7 425.5,719.4 426.0,722.8 C426.5,726.2 424.8,731.4 422.0,733.9 C419.2,736.4 414.4,737.4 409.4,737.8 C404.4,738.2 398.9,736.2 392.0,736.2 C385.1,736.2 376.2,737.1 368.3,737.8 C360.4,738.5 350.8,739.5 344.5,740.2 C338.2,740.9 334.2,742.6 330.3,741.8 C326.4,741.0 323.0,737.6 320.8,735.5 C318.6,733.4 317.7,731.2 316.9,729.1 C316.1,727.0 315.5,725.4 316.1,722.8Z" fill="#24221c" fill-opacity="0.3" filter="url(#tex)"/><path d="M316.1,722.8 C316.8,720.2 317.4,715.9 320.8,713.3 C324.2,710.7 328.7,708.3 336.6,707.0 C344.5,705.7 357.8,705.1 368.3,705.4 C378.9,705.7 391.5,707.3 399.9,708.6 C408.3,709.9 414.5,710.9 418.9,713.3 C423.2,715.7 425.5,719.4 426.0,722.8 C426.5,726.2 424.8,731.4 422.0,733.9 C419.2,736.4 414.4,737.4 409.4,737.8 C404.4,738.2 398.9,736.2 392.0,736.2 C385.1,736.2 376.2,737.1 368.3,737.8 C360.4,738.5 350.8,739.5 344.5,740.2 C338.2,740.9 334.2,742.6 330.3,741.8 C326.4,741.0 323.0,737.6 320.8,735.5 C318.6,733.4 317.7,731.2 316.9,729.1 C316.1,727.0 315.5,725.4 316.1,722.8Z" fill="#dedab0" fill-opacity="0.35" filter="url(#tex2)"/></g>
<path d="M437.4,682.7 C437.7,679.6 439.0,675.6 441.1,673.5 C443.2,671.4 446.6,669.6 450.3,669.8 C454.0,669.9 458.1,672.9 463.3,674.4 C468.6,675.9 474.1,678.9 481.8,679.0 C489.5,679.1 501.8,675.6 509.5,675.3 C517.2,675.0 523.8,675.7 528.0,677.2 C532.2,678.8 533.9,681.5 534.5,684.6 C535.1,687.7 534.0,693.2 531.7,695.6 C529.4,698.0 524.3,699.0 520.6,699.3 C516.9,699.6 514.7,696.6 509.5,697.5 C504.3,698.4 495.4,702.1 489.2,704.9 C483.0,707.7 476.5,712.2 472.5,714.1 C468.5,716.0 467.2,716.6 465.1,716.0 C463.0,715.4 462.7,713.2 459.6,710.4 C456.5,707.6 450.0,702.4 446.6,699.3 C443.2,696.2 440.7,694.8 439.2,692.0 C437.7,689.2 437.1,685.8 437.4,682.7Z" fill="none" stroke="#dfe8f2" stroke-width="3" stroke-opacity="0.85" filter="url(#soft)"/><path d="M437.4,682.7 C437.7,679.6 439.0,675.6 441.1,673.5 C443.2,671.4 446.6,669.6 450.3,669.8 C454.0,669.9 458.1,672.9 463.3,674.4 C468.6,675.9 474.1,678.9 481.8,679.0 C489.5,679.1 501.8,675.6 509.5,675.3 C517.2,675.0 523.8,675.7 528.0,677.2 C532.2,678.8 533.9,681.5 534.5,684.6 C535.1,687.7 534.0,693.2 531.7,695.6 C529.4,698.0 524.3,699.0 520.6,699.3 C516.9,699.6 514.7,696.6 509.5,697.5 C504.3,698.4 495.4,702.1 489.2,704.9 C483.0,707.7 476.5,712.2 472.5,714.1 C468.5,716.0 467.2,716.6 465.1,716.0 C463.0,715.4 462.7,713.2 459.6,710.4 C456.5,707.6 450.0,702.4 446.6,699.3 C443.2,696.2 440.7,694.8 439.2,692.0 C437.7,689.2 437.1,685.8 437.4,682.7Z" fill="url(#eg13)"/><g clip-path="url(#ec13)"><path d="M437.4,682.7 C437.7,679.6 439.0,675.6 441.1,673.5 C443.2,671.4 446.6,669.6 450.3,669.8 C454.0,669.9 458.1,672.9 463.3,674.4 C468.6,675.9 474.1,678.9 481.8,679.0 C489.5,679.1 501.8,675.6 509.5,675.3 C517.2,675.0 523.8,675.7 528.0,677.2 C532.2,678.8 533.9,681.5 534.5,684.6 C535.1,687.7 534.0,693.2 531.7,695.6 C529.4,698.0 524.3,699.0 520.6,699.3 C516.9,699.6 514.7,696.6 509.5,697.5 C504.3,698.4 495.4,702.1 489.2,704.9 C483.0,707.7 476.5,712.2 472.5,714.1 C468.5,716.0 467.2,716.6 465.1,716.0 C463.0,715.4 462.7,713.2 459.6,710.4 C456.5,707.6 450.0,702.4 446.6,699.3 C443.2,696.2 440.7,694.8 439.2,692.0 C437.7,689.2 437.1,685.8 437.4,682.7Z" fill="none" stroke="#38322e" stroke-width="12" stroke-opacity="0.8" filter="url(#rim)"/><path d="M437.4,682.7 C437.7,679.6 439.0,675.6 441.1,673.5 C443.2,671.4 446.6,669.6 450.3,669.8 C454.0,669.9 458.1,672.9 463.3,674.4 C468.6,675.9 474.1,678.9 481.8,679.0 C489.5,679.1 501.8,675.6 509.5,675.3 C517.2,675.0 523.8,675.7 528.0,677.2 C532.2,678.8 533.9,681.5 534.5,684.6 C535.1,687.7 534.0,693.2 531.7,695.6 C529.4,698.0 524.3,699.0 520.6,699.3 C516.9,699.6 514.7,696.6 509.5,697.5 C504.3,698.4 495.4,702.1 489.2,704.9 C483.0,707.7 476.5,712.2 472.5,714.1 C468.5,716.0 467.2,716.6 465.1,716.0 C463.0,715.4 462.7,713.2 459.6,710.4 C456.5,707.6 450.0,702.4 446.6,699.3 C443.2,696.2 440.7,694.8 439.2,692.0 C437.7,689.2 437.1,685.8 437.4,682.7Z" fill="#24221c" fill-opacity="0.3" filter="url(#tex)"/><path d="M437.4,682.7 C437.7,679.6 439.0,675.6 441.1,673.5 C443.2,671.4 446.6,669.6 450.3,669.8 C454.0,669.9 458.1,672.9 463.3,674.4 C468.6,675.9 474.1,678.9 481.8,679.0 C489.5,679.1 501.8,675.6 509.5,675.3 C517.2,675.0 523.8,675.7 528.0,677.2 C532.2,678.8 533.9,681.5 534.5,684.6 C535.1,687.7 534.0,693.2 531.7,695.6 C529.4,698.0 524.3,699.0 520.6,699.3 C516.9,699.6 514.7,696.6 509.5,697.5 C504.3,698.4 495.4,702.1 489.2,704.9 C483.0,707.7 476.5,712.2 472.5,714.1 C468.5,716.0 467.2,716.6 465.1,716.0 C463.0,715.4 462.7,713.2 459.6,710.4 C456.5,707.6 450.0,702.4 446.6,699.3 C443.2,696.2 440.7,694.8 439.2,692.0 C437.7,689.2 437.1,685.8 437.4,682.7Z" fill="#bec29a" fill-opacity="0.35" filter="url(#tex2)"/></g>
<path d="M434.6,732.6 C434.9,727.7 436.6,721.2 439.2,717.8 C441.8,714.4 446.9,712.6 450.3,712.3 C453.7,712.0 455.3,713.2 459.6,716.0 C463.9,718.8 470.4,725.5 476.2,728.9 C482.0,732.3 488.2,735.5 494.7,736.3 C501.2,737.1 509.1,733.5 515.0,733.5 C520.9,733.5 526.4,734.3 529.8,736.3 C533.2,738.3 535.4,743.1 535.4,745.6 C535.4,748.1 533.5,750.2 529.8,751.1 C526.1,752.0 519.7,750.5 513.2,751.1 C506.7,751.7 498.7,752.9 491.0,754.8 C483.3,756.6 473.5,760.4 467.0,762.2 C460.5,764.1 455.9,766.2 452.2,765.9 C448.5,765.6 447.3,763.5 444.8,760.4 C442.3,757.3 439.1,752.0 437.4,747.4 C435.7,742.8 434.3,737.5 434.6,732.6Z" fill="none" stroke="#dfe8f2" stroke-width="3" stroke-opacity="0.85" filter="url(#soft)"/><path d="M434.6,732.6 C434.9,727.7 436.6,721.2 439.2,717.8 C441.8,714.4 446.9,712.6 450.3,712.3 C453.7,712.0 455.3,713.2 459.6,716.0 C463.9,718.8 470.4,725.5 476.2,728.9 C482.0,732.3 488.2,735.5 494.7,736.3 C501.2,737.1 509.1,733.5 515.0,733.5 C520.9,733.5 526.4,734.3 529.8,736.3 C533.2,738.3 535.4,743.1 535.4,745.6 C535.4,748.1 533.5,750.2 529.8,751.1 C526.1,752.0 519.7,750.5 513.2,751.1 C506.7,751.7 498.7,752.9 491.0,754.8 C483.3,756.6 473.5,760.4 467.0,762.2 C460.5,764.1 455.9,766.2 452.2,765.9 C448.5,765.6 447.3,763.5 444.8,760.4 C442.3,757.3 439.1,752.0 437.4,747.4 C435.7,742.8 434.3,737.5 434.6,732.6Z" fill="url(#eg14)"/><g clip-path="url(#ec14)"><path d="M434.6,732.6 C434.9,727.7 436.6,721.2 439.2,717.8 C441.8,714.4 446.9,712.6 450.3,712.3 C453.7,712.0 455.3,713.2 459.6,716.0 C463.9,718.8 470.4,725.5 476.2,728.9 C482.0,732.3 488.2,735.5 494.7,736.3 C501.2,737.1 509.1,733.5 515.0,733.5 C520.9,733.5 526.4,734.3 529.8,736.3 C533.2,738.3 535.4,743.1 535.4,745.6 C535.4,748.1 533.5,750.2 529.8,751.1 C526.1,752.0 519.7,750.5 513.2,751.1 C506.7,751.7 498.7,752.9 491.0,754.8 C483.3,756.6 473.5,760.4 467.0,762.2 C460.5,764.1 455.9,766.2 452.2,765.9 C448.5,765.6 447.3,763.5 444.8,760.4 C442.3,757.3 439.1,752.0 437.4,747.4 C435.7,742.8 434.3,737.5 434.6,732.6Z" fill="none" stroke="#38322e" stroke-width="12" stroke-opacity="0.8" filter="url(#rim)"/><path d="M434.6,732.6 C434.9,727.7 436.6,721.2 439.2,717.8 C441.8,714.4 446.9,712.6 450.3,712.3 C453.7,712.0 455.3,713.2 459.6,716.0 C463.9,718.8 470.4,725.5 476.2,728.9 C482.0,732.3 488.2,735.5 494.7,736.3 C501.2,737.1 509.1,733.5 515.0,733.5 C520.9,733.5 526.4,734.3 529.8,736.3 C533.2,738.3 535.4,743.1 535.4,745.6 C535.4,748.1 533.5,750.2 529.8,751.1 C526.1,752.0 519.7,750.5 513.2,751.1 C506.7,751.7 498.7,752.9 491.0,754.8 C483.3,756.6 473.5,760.4 467.0,762.2 C460.5,764.1 455.9,766.2 452.2,765.9 C448.5,765.6 447.3,763.5 444.8,760.4 C442.3,757.3 439.1,752.0 437.4,747.4 C435.7,742.8 434.3,737.5 434.6,732.6Z" fill="#24221c" fill-opacity="0.3" filter="url(#tex)"/><path d="M434.6,732.6 C434.9,727.7 436.6,721.2 439.2,717.8 C441.8,714.4 446.9,712.6 450.3,712.3 C453.7,712.0 455.3,713.2 459.6,716.0 C463.9,718.8 470.4,725.5 476.2,728.9 C482.0,732.3 488.2,735.5 494.7,736.3 C501.2,737.1 509.1,733.5 515.0,733.5 C520.9,733.5 526.4,734.3 529.8,736.3 C533.2,738.3 535.4,743.1 535.4,745.6 C535.4,748.1 533.5,750.2 529.8,751.1 C526.1,752.0 519.7,750.5 513.2,751.1 C506.7,751.7 498.7,752.9 491.0,754.8 C483.3,756.6 473.5,760.4 467.0,762.2 C460.5,764.1 455.9,766.2 452.2,765.9 C448.5,765.6 447.3,763.5 444.8,760.4 C442.3,757.3 439.1,752.0 437.4,747.4 C435.7,742.8 434.3,737.5 434.6,732.6Z" fill="#bac096" fill-opacity="0.35" filter="url(#tex2)"/></g>
<text x="599.30" y="506.40" font-size="23.5" font-weight="bold" font-style="normal" text-anchor="start" fill="#000" stroke="#000" stroke-width="0.45" textLength="15.80" lengthAdjust="spacingAndGlyphs">E</text>
<line x1="676.2" y1="539.6" x2="976.2" y2="539.6" stroke="#b4b4b4" stroke-width="1.2"/>
<text x="667.50" y="546.50" font-size="15.8" font-weight="bold" font-style="normal" text-anchor="end" fill="#000" stroke="#000" stroke-width="0.45">100%</text>
<line x1="676.2" y1="573" x2="976.2" y2="573" stroke="#b4b4b4" stroke-width="1.2"/>
<text x="667.50" y="579.90" font-size="15.8" font-weight="bold" font-style="normal" text-anchor="end" fill="#000" stroke="#000" stroke-width="0.45">80%</text>
<line x1="676.2" y1="606.4" x2="976.2" y2="606.4" stroke="#b4b4b4" stroke-width="1.2"/>
<text x="667.50" y="613.30" font-size="15.8" font-weight="bold" font-style="normal" text-anchor="end" fill="#000" stroke="#000" stroke-width="0.45">60%</text>
<line x1="676.2" y1="640.1" x2="976.2" y2="640.1" stroke="#b4b4b4" stroke-width="1.2"/>
<text x="667.50" y="647.00" font-size="15.8" font-weight="bold" font-style="normal" text-anchor="end" fill="#000" stroke="#000" stroke-width="0.45">40%</text>
<line x1="676.2" y1="673.7" x2="976.2" y2="673.7" stroke="#b4b4b4" stroke-width="1.2"/>
<text x="667.50" y="680.60" font-size="15.8" font-weight="bold" font-style="normal" text-anchor="end" fill="#000" stroke="#000" stroke-width="0.45">20%</text>
<line x1="676.2" y1="707.8" x2="976.2" y2="707.8" stroke="#b4b4b4" stroke-width="1.2"/>
<text x="667.50" y="714.70" font-size="15.8" font-weight="bold" font-style="normal" text-anchor="end" fill="#000" stroke="#000" stroke-width="0.45">0%</text>
<line x1="680.6" y1="539.6" x2="680.6" y2="710.5" stroke="#b4b4b4" stroke-width="1.2"/>
<line x1="680.6" y1="707.8" x2="680.6" y2="710.8" stroke="#b4b4b4" stroke-width="1.2"/>
<line x1="778.1" y1="707.8" x2="778.1" y2="710.8" stroke="#b4b4b4" stroke-width="1.2"/>
<line x1="876.8" y1="707.8" x2="876.8" y2="710.8" stroke="#b4b4b4" stroke-width="1.2"/>
<line x1="976" y1="707.8" x2="976" y2="710.8" stroke="#b4b4b4" stroke-width="1.2"/>
<rect x="709.90" y="566.51" width="39.20" height="141.29" fill="url(#gb)" />
<rect x="709.90" y="539.60" width="39.20" height="26.91" fill="url(#gr)" />
<rect x="808.00" y="694.34" width="39.40" height="13.46" fill="url(#gb)" />
<rect x="808.00" y="559.78" width="39.40" height="134.56" fill="url(#gr)" />
<rect x="808.00" y="539.60" width="39.40" height="20.18" fill="url(#gg)" />
<rect x="906.50" y="601.83" width="39.60" height="105.97" fill="url(#gb)" />
<rect x="906.50" y="544.65" width="39.60" height="57.19" fill="url(#gr)" />
<rect x="906.50" y="539.60" width="39.60" height="5.05" fill="url(#gg)" />
<text x="729.50" y="530.90" font-size="16" font-weight="bold" font-style="normal" text-anchor="middle" fill="#000" stroke="#000" stroke-width="0.45" textLength="46.50" lengthAdjust="spacingAndGlyphs"><tspan font-style="italic">n</tspan> = 63</text>
<text x="827.70" y="530.90" font-size="16" font-weight="bold" font-style="normal" text-anchor="middle" fill="#000" stroke="#000" stroke-width="0.45" textLength="46.50" lengthAdjust="spacingAndGlyphs"><tspan font-style="italic">n</tspan> = 37</text>
<text x="926.30" y="530.90" font-size="16" font-weight="bold" font-style="normal" text-anchor="middle" fill="#000" stroke="#000" stroke-width="0.45" textLength="46.50" lengthAdjust="spacingAndGlyphs"><tspan font-style="italic">n</tspan> = 35</text>
<text x="730.90" y="729.90" font-size="17" font-weight="normal" font-style="normal" text-anchor="middle" fill="#000" stroke="#000" stroke-width="0.5" textLength="58.00" lengthAdjust="spacingAndGlyphs">Control</text>
<text x="829.30" y="729.90" font-size="17" font-weight="normal" font-style="normal" text-anchor="middle" fill="#000" stroke="#000" stroke-width="0.5" textLength="78.50" lengthAdjust="spacingAndGlyphs">AS - oligo</text>
<text x="926.20" y="729.90" font-size="17" font-weight="normal" font-style="normal" text-anchor="middle" fill="#000" stroke="#000" stroke-width="0.5" textLength="78.50" lengthAdjust="spacingAndGlyphs">AS - oligo</text>
<text x="926.50" y="745.50" font-size="17" font-weight="normal" font-style="normal" text-anchor="middle" fill="#000" stroke="#000" stroke-width="0.5" textLength="95.00" lengthAdjust="spacingAndGlyphs"><tspan font-style="italic" font-weight="bold">wnt11</tspan> 50 pg</text>
<rect x="992.50" y="607.30" width="7.50" height="6.70" fill="url(#ggs)" />
<text x="1003.40" y="618.30" font-size="16.3" font-weight="bold" font-style="normal" text-anchor="start" fill="#000" stroke="#000" stroke-width="0.5">III</text>
<rect x="992.50" y="628.80" width="7.50" height="6.70" fill="url(#grs)" />
<text x="1003.40" y="639.80" font-size="16.3" font-weight="bold" font-style="normal" text-anchor="start" fill="#000" stroke="#000" stroke-width="0.5">II</text>
<rect x="992.50" y="651.30" width="7.50" height="6.70" fill="url(#gbs)" />
<text x="1003.40" y="662.30" font-size="16.3" font-weight="bold" font-style="normal" text-anchor="start" fill="#000" stroke="#000" stroke-width="0.5">I</text>
<text x="1058.00" y="451.60" font-size="26" font-weight="bold" font-style="normal" text-anchor="start" fill="#000" stroke="#000" stroke-width="0.45" textLength="15.50" lengthAdjust="spacingAndGlyphs">F</text>
<text transform="translate(1205.20,546.50) rotate(-90)" x="0" y="0" font-size="22" font-weight="normal" font-style="normal" text-anchor="start" fill="#000" stroke="#000" stroke-width="0.9" textLength="71.80" lengthAdjust="spacingAndGlyphs">Control</text>
<text transform="translate(1253.50,544.00) rotate(-90)" x="0" y="0" font-size="22" font-weight="normal" font-style="italic" text-anchor="start" fill="#000" stroke="#000" stroke-width="1.0" textLength="59.50" lengthAdjust="spacingAndGlyphs">Wnt11</text>
<text x="1059.50" y="578.60" font-size="22.5" font-weight="bold" font-style="normal" text-anchor="start" fill="#000" stroke="#000" stroke-width="0.45" textLength="103.50" lengthAdjust="spacingAndGlyphs">AS - oligo</text>
<text x="1221.30" y="577.50" font-size="23" font-weight="bold" font-style="normal" text-anchor="middle" fill="#000" stroke="#000" stroke-width="0.6">+</text>
<text x="1245.60" y="577.50" font-size="23" font-weight="bold" font-style="normal" text-anchor="middle" fill="#000" stroke="#000" stroke-width="0.6">+</text>
<text x="1164.50" y="611.60" font-size="22.3" font-weight="bold" font-style="italic" text-anchor="end" fill="#000" stroke="#000" stroke-width="0.3">siamois</text>
<text x="1164.50" y="644.20" font-size="22.3" font-weight="bold" font-style="italic" text-anchor="end" fill="#000" stroke="#000" stroke-width="0.3">Xnr3</text>
<text x="1164.50" y="679.00" font-size="22.3" font-weight="bold" font-style="italic" text-anchor="end" fill="#000" stroke="#000" stroke-width="0.3">chordin</text>
<text x="1164.50" y="713.80" font-size="22.3" font-weight="bold" font-style="italic" text-anchor="end" fill="#000" stroke="#000" stroke-width="0.3">noggin</text>
<text x="1164.50" y="746.40" font-size="22.3" font-weight="bold" font-style="italic" text-anchor="end" fill="#000" stroke="#000" stroke-width="0.3">dnd1</text>
<text x="1164.50" y="779.30" font-size="22.3" font-weight="bold" font-style="italic" text-anchor="end" fill="#000" stroke="#000" stroke-width="0.3">odc</text>
<rect x="1175.20" y="590.70" width="88.80" height="24.10" fill="#c8c8c8" />
<rect x="1184.80" y="590.70" width="17.20" height="24.10" fill="#000" fill-opacity="0.03"/>
<rect x="1211.50" y="590.70" width="17.00" height="24.10" fill="#000" fill-opacity="0.03"/>
<rect x="1238.30" y="590.70" width="17.20" height="24.10" fill="#000" fill-opacity="0.03"/>
<path d="M1184.40,599.30 Q1193.40,602.10 1202.40,599.30 Q1203.40,603.65 1202.20,608.00 Q1193.40,608.80 1184.60,608.00 Q1183.40,603.65 1184.40,599.30Z" fill="#050505" filter="url(#bl2)"/>
<path d="M1211.10,600.00 Q1220.00,602.80 1228.90,600.00 Q1229.90,604.00 1228.70,608.00 Q1220.00,608.80 1211.30,608.00 Q1210.10,604.00 1211.10,600.00Z" fill="#c2c2c2" filter="url(#bl2)"/>
<path d="M1237.90,600.90 Q1246.90,603.70 1255.90,600.90 Q1256.90,604.45 1255.70,608.00 Q1246.90,608.80 1238.10,608.00 Q1236.90,604.45 1237.90,600.90Z" fill="#0a0a0a" filter="url(#bl2)"/>
<rect x="1175.20" y="623.30" width="88.80" height="24.10" fill="#d6d6d6" />
<rect x="1184.80" y="623.30" width="17.20" height="24.10" fill="#000" fill-opacity="0.03"/>
<rect x="1238.30" y="623.30" width="17.20" height="24.10" fill="#000" fill-opacity="0.03"/>
<path d="M1184.40,630.80 Q1193.40,633.60 1202.40,630.80 Q1203.40,634.55 1202.20,638.30 Q1193.40,639.10 1184.60,638.30 Q1183.40,634.55 1184.40,630.80Z" fill="#050505" filter="url(#bl2)"/>
<path d="M1237.90,632.20 Q1246.90,634.64 1255.90,632.20 Q1256.90,635.25 1255.70,638.30 Q1246.90,639.10 1238.10,638.30 Q1236.90,635.25 1237.90,632.20Z" fill="#222" filter="url(#bl2)"/>
<rect x="1175.20" y="658.90" width="88.80" height="24.10" fill="#dedede" />
<rect x="1183.40" y="658.90" width="16.80" height="24.10" fill="#000" fill-opacity="0.03"/>
<rect x="1237.70" y="658.90" width="16.80" height="24.10" fill="#000" fill-opacity="0.03"/>
<path d="M1183.00,667.00 Q1191.80,669.64 1200.60,667.00 Q1201.60,670.30 1200.40,673.60 Q1191.80,674.40 1183.20,673.60 Q1182.00,670.30 1183.00,667.00Z" fill="#0a0a0a" filter="url(#bl2)"/>
<path d="M1237.30,667.00 Q1246.10,669.64 1254.90,667.00 Q1255.90,670.30 1254.70,673.60 Q1246.10,674.40 1237.50,673.60 Q1236.30,670.30 1237.30,667.00Z" fill="#111" filter="url(#bl2)"/>
<rect x="1175.20" y="692.90" width="88.80" height="23.50" fill="#ababab" />
<rect x="1184.00" y="692.90" width="15.50" height="23.50" fill="#000" fill-opacity="0.03"/>
<rect x="1211.00" y="692.90" width="16.00" height="23.50" fill="#000" fill-opacity="0.03"/>
<rect x="1237.00" y="692.90" width="15.80" height="23.50" fill="#000" fill-opacity="0.03"/>
<path d="M1183.60,701.70 Q1191.75,703.82 1199.90,701.70 Q1200.90,704.35 1199.70,707.00 Q1191.75,707.80 1183.80,707.00 Q1182.60,704.35 1183.60,701.70Z" fill="#111" filter="url(#bl2)"/>
<path d="M1210.60,701.00 Q1219.00,703.40 1227.40,701.00 Q1228.40,704.00 1227.20,707.00 Q1219.00,707.80 1210.80,707.00 Q1209.60,704.00 1210.60,701.00Z" fill="#a8a8a8" filter="url(#bl2)"/>
<path d="M1236.60,701.00 Q1244.90,703.76 1253.20,701.00 Q1254.20,704.45 1253.00,707.90 Q1244.90,708.70 1236.80,707.90 Q1235.60,704.45 1236.60,701.00Z" fill="#050505" filter="url(#bl2)"/>
<rect x="1175.20" y="727.70" width="88.80" height="24.30" fill="#dadada" />
<rect x="1184.20" y="727.70" width="17.80" height="24.30" fill="#000" fill-opacity="0.03"/>
<rect x="1211.00" y="727.70" width="17.00" height="24.30" fill="#000" fill-opacity="0.03"/>
<path d="M1183.80,736.50 Q1193.10,739.30 1202.40,736.50 Q1203.40,740.10 1202.20,743.70 Q1193.10,744.50 1184.00,743.70 Q1182.80,740.10 1183.80,736.50Z" fill="#050505" filter="url(#bl2)"/>
<path d="M1210.60,737.00 Q1219.50,739.40 1228.40,737.00 Q1229.40,740.00 1228.20,743.00 Q1219.50,743.80 1210.80,743.00 Q1209.60,740.00 1210.60,737.00Z" fill="#d2d2d2" filter="url(#bl2)"/>
<rect x="1175.20" y="760.60" width="88.80" height="24.10" fill="#c6c6c6" />
<rect x="1183.40" y="760.60" width="17.60" height="24.10" fill="#000" fill-opacity="0.03"/>
<rect x="1211.00" y="760.60" width="17.20" height="24.10" fill="#000" fill-opacity="0.03"/>
<rect x="1238.30" y="760.60" width="17.20" height="24.10" fill="#000" fill-opacity="0.03"/>
<path d="M1183.00,768.60 Q1192.20,771.28 1201.40,768.60 Q1202.40,771.95 1201.20,775.30 Q1192.20,776.10 1183.20,775.30 Q1182.00,771.95 1183.00,768.60Z" fill="#050505" filter="url(#bl2)"/>
<path d="M1210.60,768.60 Q1219.60,771.28 1228.60,768.60 Q1229.60,771.95 1228.40,775.30 Q1219.60,776.10 1210.80,775.30 Q1209.60,771.95 1210.60,768.60Z" fill="#111" filter="url(#bl2)"/>
<path d="M1237.90,768.60 Q1246.90,771.28 1255.90,768.60 Q1256.90,771.95 1255.70,775.30 Q1246.90,776.10 1238.10,775.30 Q1236.90,771.95 1237.90,768.60Z" fill="#050505" filter="url(#bl2)"/>
</svg>
</body></html>
